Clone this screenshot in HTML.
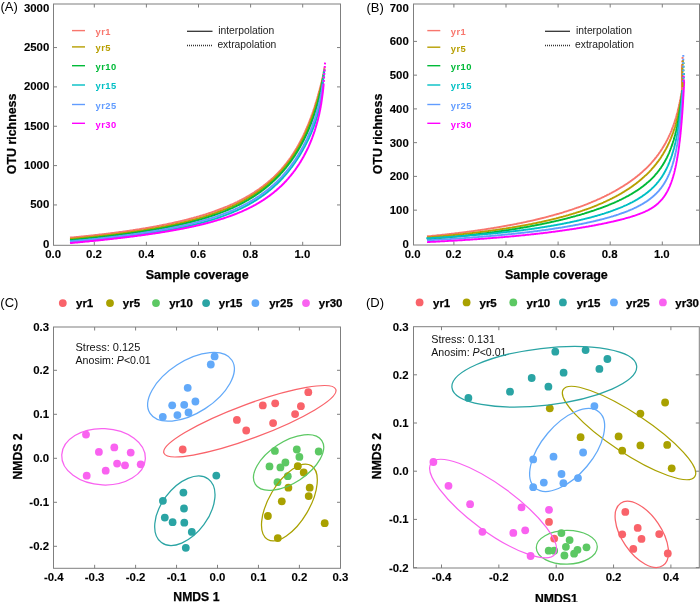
<!DOCTYPE html>
<html><head><meta charset="utf-8"><style>
html,body{margin:0;padding:0;background:#fff;}
svg{display:block;font-family:"Liberation Sans", sans-serif;will-change:transform;}
</style></head><body>
<svg width="700" height="602" viewBox="0 0 700 602">
<rect width="700" height="602" fill="#fff"/>
<text x="0.40" y="11.40" font-size="13" fill="#000">(A)</text>
<rect x="53.50" y="4.00" width="287.00" height="241.30" fill="none" stroke="#7f7f7f" stroke-width="1"/>
<line x1="94.30" y1="245.30" x2="94.30" y2="241.80" stroke="#7f7f7f" stroke-width="1"/>
<line x1="94.30" y1="4.00" x2="94.30" y2="7.50" stroke="#7f7f7f" stroke-width="1"/>
<line x1="146.40" y1="245.30" x2="146.40" y2="241.80" stroke="#7f7f7f" stroke-width="1"/>
<line x1="146.40" y1="4.00" x2="146.40" y2="7.50" stroke="#7f7f7f" stroke-width="1"/>
<line x1="198.50" y1="245.30" x2="198.50" y2="241.80" stroke="#7f7f7f" stroke-width="1"/>
<line x1="198.50" y1="4.00" x2="198.50" y2="7.50" stroke="#7f7f7f" stroke-width="1"/>
<line x1="250.60" y1="245.30" x2="250.60" y2="241.80" stroke="#7f7f7f" stroke-width="1"/>
<line x1="250.60" y1="4.00" x2="250.60" y2="7.50" stroke="#7f7f7f" stroke-width="1"/>
<line x1="302.70" y1="245.30" x2="302.70" y2="241.80" stroke="#7f7f7f" stroke-width="1"/>
<line x1="302.70" y1="4.00" x2="302.70" y2="7.50" stroke="#7f7f7f" stroke-width="1"/>
<line x1="53.50" y1="204.95" x2="57.00" y2="204.95" stroke="#7f7f7f" stroke-width="1"/>
<line x1="340.50" y1="204.95" x2="337.00" y2="204.95" stroke="#7f7f7f" stroke-width="1"/>
<line x1="53.50" y1="165.60" x2="57.00" y2="165.60" stroke="#7f7f7f" stroke-width="1"/>
<line x1="340.50" y1="165.60" x2="337.00" y2="165.60" stroke="#7f7f7f" stroke-width="1"/>
<line x1="53.50" y1="126.25" x2="57.00" y2="126.25" stroke="#7f7f7f" stroke-width="1"/>
<line x1="340.50" y1="126.25" x2="337.00" y2="126.25" stroke="#7f7f7f" stroke-width="1"/>
<line x1="53.50" y1="86.90" x2="57.00" y2="86.90" stroke="#7f7f7f" stroke-width="1"/>
<line x1="340.50" y1="86.90" x2="337.00" y2="86.90" stroke="#7f7f7f" stroke-width="1"/>
<line x1="53.50" y1="47.55" x2="57.00" y2="47.55" stroke="#7f7f7f" stroke-width="1"/>
<line x1="340.50" y1="47.55" x2="337.00" y2="47.55" stroke="#7f7f7f" stroke-width="1"/>
<text x="49.30" y="247.60" font-size="11.4" font-weight="bold" stroke="#000" stroke-width="0.1" text-anchor="end" fill="#000">0</text>
<text x="49.30" y="208.25" font-size="11.4" font-weight="bold" stroke="#000" stroke-width="0.1" text-anchor="end" fill="#000">500</text>
<text x="49.30" y="168.90" font-size="11.4" font-weight="bold" stroke="#000" stroke-width="0.1" text-anchor="end" fill="#000">1000</text>
<text x="49.30" y="129.55" font-size="11.4" font-weight="bold" stroke="#000" stroke-width="0.1" text-anchor="end" fill="#000">1500</text>
<text x="49.30" y="90.20" font-size="11.4" font-weight="bold" stroke="#000" stroke-width="0.1" text-anchor="end" fill="#000">2000</text>
<text x="49.30" y="50.85" font-size="11.4" font-weight="bold" stroke="#000" stroke-width="0.1" text-anchor="end" fill="#000">2500</text>
<text x="49.30" y="11.50" font-size="11.4" font-weight="bold" stroke="#000" stroke-width="0.1" text-anchor="end" fill="#000">3000</text>
<text x="53.20" y="258.40" font-size="11.4" font-weight="bold" stroke="#000" stroke-width="0.1" text-anchor="middle" fill="#000">0.0</text>
<text x="94.00" y="258.40" font-size="11.4" font-weight="bold" stroke="#000" stroke-width="0.1" text-anchor="middle" fill="#000">0.2</text>
<text x="146.10" y="258.40" font-size="11.4" font-weight="bold" stroke="#000" stroke-width="0.1" text-anchor="middle" fill="#000">0.4</text>
<text x="198.20" y="258.40" font-size="11.4" font-weight="bold" stroke="#000" stroke-width="0.1" text-anchor="middle" fill="#000">0.6</text>
<text x="250.30" y="258.40" font-size="11.4" font-weight="bold" stroke="#000" stroke-width="0.1" text-anchor="middle" fill="#000">0.8</text>
<text x="302.40" y="258.40" font-size="11.4" font-weight="bold" stroke="#000" stroke-width="0.1" text-anchor="middle" fill="#000">1.0</text>
<text x="197.20" y="278.80" font-size="12.5" font-weight="bold" stroke="#000" stroke-width="0.25" text-anchor="middle" fill="#000">Sample coverage</text>
<text transform="translate(15.6,133.9) rotate(-90)" font-size="12.4" font-weight="bold" stroke="#000" stroke-width="0.25" text-anchor="middle">OTU richness</text>
<line x1="72.00" y1="30.60" x2="85.00" y2="30.60" stroke="#F8766D" stroke-width="1.4"/>
<text x="95.60" y="35.00" font-size="9.4" font-weight="bold" fill="#F8766D" letter-spacing="0.45">yr1</text>
<line x1="72.00" y1="46.90" x2="85.00" y2="46.90" stroke="#B79F00" stroke-width="1.4"/>
<text x="95.60" y="51.30" font-size="9.4" font-weight="bold" fill="#B79F00" letter-spacing="0.45">yr5</text>
<line x1="72.00" y1="65.70" x2="85.00" y2="65.70" stroke="#00BA38" stroke-width="1.4"/>
<text x="95.60" y="70.10" font-size="9.4" font-weight="bold" fill="#00BA38" letter-spacing="0.45">yr10</text>
<line x1="72.00" y1="85.00" x2="85.00" y2="85.00" stroke="#00BFC4" stroke-width="1.4"/>
<text x="95.60" y="89.40" font-size="9.4" font-weight="bold" fill="#00BFC4" letter-spacing="0.45">yr15</text>
<line x1="72.00" y1="104.50" x2="85.00" y2="104.50" stroke="#619CFF" stroke-width="1.4"/>
<text x="95.60" y="108.90" font-size="9.4" font-weight="bold" fill="#619CFF" letter-spacing="0.45">yr25</text>
<line x1="72.00" y1="123.30" x2="85.00" y2="123.30" stroke="#FF00FF" stroke-width="1.4"/>
<text x="95.60" y="127.70" font-size="9.4" font-weight="bold" fill="#FF00FF" letter-spacing="0.45">yr30</text>
<line x1="187.00" y1="31.30" x2="212.50" y2="31.30" stroke="#333" stroke-width="1.3"/>
<line x1="187.00" y1="45.50" x2="213.00" y2="45.50" stroke="#333" stroke-width="1.3" stroke-dasharray="1,1"/>
<text x="218.20" y="33.80" font-size="10.3" fill="#222">interpolation</text>
<text x="217.40" y="48.00" font-size="10.3" fill="#222">extrapolation</text>
<path d="M70.0,237.7 70.7,237.6 71.4,237.6 72.1,237.5 72.8,237.4 73.5,237.4 74.2,237.3 74.9,237.2 75.6,237.2 76.3,237.1 77.0,237.0 77.7,236.9 78.4,236.9 79.1,236.8 79.8,236.7 80.5,236.7 81.2,236.6 81.9,236.5 82.6,236.5 83.3,236.4 84.0,236.3 84.7,236.2 85.4,236.2 86.1,236.1 86.8,236.0 87.5,236.0 88.2,235.9 88.9,235.8 89.6,235.7 90.3,235.7 91.0,235.6 91.7,235.5 92.4,235.4 93.1,235.4 93.8,235.3 94.5,235.2 95.2,235.1 95.9,235.0 96.6,235.0 97.3,234.9 98.0,234.8 98.7,234.7 99.4,234.6 100.1,234.6 100.8,234.5 101.5,234.4 102.2,234.3 102.9,234.2 103.6,234.2 104.3,234.1 105.0,234.0 105.7,233.9 106.4,233.8 107.1,233.7 107.8,233.7 108.5,233.6 109.2,233.5 109.9,233.4 110.6,233.3 111.3,233.2 111.9,233.1 112.6,233.0 113.3,233.0 114.0,232.9 114.7,232.8 115.4,232.7 116.1,232.6 116.8,232.5 117.5,232.4 118.2,232.3 118.9,232.2 119.6,232.1 120.3,232.0 121.0,231.9 121.7,231.9 122.4,231.8 123.1,231.7 123.8,231.6 124.5,231.5 125.2,231.4 125.8,231.3 126.5,231.2 127.2,231.1 127.9,231.0 128.6,230.9 129.3,230.8 130.0,230.7 130.7,230.6 131.4,230.5 132.1,230.4 132.8,230.3 133.5,230.1 134.2,230.0 134.9,229.9 135.6,229.8 136.3,229.7 137.0,229.6 137.7,229.5 138.4,229.4 139.1,229.3 139.7,229.2 140.4,229.1 141.1,228.9 141.8,228.8 142.5,228.7 143.2,228.6 143.9,228.5 144.6,228.4 145.3,228.3 146.0,228.1 146.7,228.0 147.4,227.9 148.1,227.8 148.8,227.7 149.5,227.5 150.1,227.4 150.8,227.3 151.5,227.2 152.2,227.1 152.9,226.9 153.6,226.8 154.3,226.7 155.0,226.6 155.7,226.4 156.4,226.3 157.0,226.2 157.7,226.0 158.4,225.9 159.1,225.8 159.8,225.6 160.5,225.5 161.2,225.4 161.9,225.2 162.6,225.1 163.3,225.0 163.9,224.8 164.6,224.7 165.3,224.6 166.0,224.4 166.7,224.3 167.4,224.1 168.1,224.0 168.8,223.8 169.5,223.7 170.1,223.5 170.8,223.4 171.5,223.3 172.2,223.1 172.9,223.0 173.6,222.8 174.3,222.6 174.9,222.5 175.6,222.3 176.3,222.2 177.0,222.0 177.7,221.9 178.4,221.7 179.1,221.6 179.7,221.4 180.4,221.2 181.1,221.1 181.8,220.9 182.5,220.7 183.2,220.6 183.8,220.4 184.5,220.2 185.2,220.1 185.9,219.9 186.6,219.7 187.2,219.5 187.9,219.4 188.6,219.2 189.3,219.0 190.0,218.8 190.6,218.7 191.3,218.5 192.0,218.3 192.7,218.1 193.4,217.9 194.0,217.7 194.7,217.5 195.4,217.4 196.1,217.2 196.7,217.0 197.4,216.8 198.1,216.6 198.8,216.4 199.4,216.2 200.1,216.0 200.8,215.8 201.5,215.6 202.1,215.4 202.8,215.2 203.5,215.0 204.1,214.8 204.8,214.6 205.5,214.4 206.2,214.1 206.8,213.9 207.5,213.7 208.2,213.5 208.8,213.3 209.5,213.0 210.2,212.8 210.8,212.6 211.5,212.4 212.2,212.1 212.8,211.9 213.5,211.7 214.2,211.5 214.8,211.2 215.5,211.0 216.1,210.7 216.8,210.5 217.5,210.3 218.1,210.0 218.8,209.8 219.4,209.5 220.1,209.3 220.7,209.0 221.4,208.8 222.1,208.5 222.7,208.3 223.4,208.0 224.0,207.7 224.7,207.5 225.3,207.2 226.0,206.9 226.6,206.7 227.3,206.4 227.9,206.1 228.6,205.9 229.2,205.6 229.8,205.3 230.5,205.0 231.1,204.7 231.8,204.4 232.4,204.2 233.1,203.9 233.7,203.6 234.3,203.3 235.0,203.0 235.6,202.7 236.2,202.4 236.9,202.1 237.5,201.8 238.1,201.4 238.8,201.1 239.4,200.8 240.0,200.5 240.6,200.2 241.3,199.9 241.9,199.5 242.5,199.2 243.1,198.9 243.7,198.5 244.4,198.2 245.0,197.9 245.6,197.5 246.2,197.2 246.8,196.8 247.4,196.5 248.0,196.1 248.7,195.8 249.3,195.4 249.9,195.1 250.5,194.7 251.1,194.3 251.7,194.0 252.3,193.6 252.9,193.2 253.5,192.9 254.1,192.5 254.6,192.1 255.2,191.7 255.8,191.3 256.4,190.9 257.0,190.5 257.6,190.2 258.1,189.8 258.7,189.4 259.3,189.0 259.9,188.5 260.4,188.1 261.0,187.7 261.6,187.3 262.1,186.9 262.7,186.5 263.3,186.0 263.8,185.6 264.4,185.2 264.9,184.7 265.5,184.3 266.0,183.9 266.6,183.4 267.1,183.0 267.7,182.5 268.2,182.1 268.7,181.6 269.3,181.2 269.8,180.7 270.3,180.3 270.9,179.8 271.4,179.3 271.9,178.9 272.4,178.4 272.9,177.9 273.5,177.4 274.0,176.9 274.5,176.5 275.0,176.0 275.5,175.5 276.0,175.0 276.5,174.5 277.0,174.0 277.5,173.5 278.0,173.0 278.4,172.5 278.9,172.0 279.4,171.4 279.9,170.9 280.4,170.4 280.8,169.9 281.3,169.4 281.8,168.8 282.2,168.3 282.7,167.8 283.1,167.2 283.6,166.7 284.1,166.1 284.5,165.6 284.9,165.1 285.4,164.5 285.8,164.0 286.3,163.4 286.7,162.9 287.1,162.3 287.6,161.7 288.0,161.2 288.4,160.6 288.8,160.0 289.2,159.5 289.6,158.9 290.1,158.3 290.5,157.8 290.9,157.2 291.3,156.6 291.7,156.0 292.1,155.4 292.4,154.9 292.8,154.3 293.2,153.7 293.6,153.1 294.0,152.5 294.4,151.9 294.7,151.3 295.1,150.7 295.5,150.1 295.8,149.5 296.2,148.9 296.6,148.3 296.9,147.7 297.3,147.1 297.6,146.5 298.0,145.8 298.3,145.2 298.7,144.6 299.0,144.0 299.3,143.4 299.7,142.8 300.0,142.1 300.3,141.5 300.7,140.9 301.0,140.3 301.3,139.6 301.6,139.0 301.9,138.4 302.3,137.7 302.6,137.1 302.9,136.5 303.2,135.9 303.5,135.2 303.8,134.6 304.1,133.9 304.4,133.3 304.7,132.7 305.0,132.0 305.3,131.4 305.6,130.7 305.8,130.1 306.1,129.4 306.4,128.8 306.7,128.1 307.0,127.5 307.2,126.8 307.5,126.2 307.8,125.5 308.1,124.9 308.3,124.2 308.6,123.6 308.8,122.9 309.1,122.3 309.4,121.6 309.6,120.9 309.9,120.3 310.1,119.6 310.4,119.0 310.6,118.3 310.9,117.6 311.1,117.0 311.4,116.3 311.6,115.6 311.8,115.0 312.1,114.3 312.3,113.7 312.5,113.0 312.8,112.3 313.0,111.7 313.2,111.0 313.5,110.3 313.7,109.6 313.9,109.0 314.1,108.3 314.4,107.6 314.6,107.0 314.8,106.3 315.0,105.6 315.2,104.9 315.4,104.3 315.6,103.6 315.8,102.9 316.1,102.2 316.3,101.6 316.5,100.9 316.7,100.2 316.9,99.5 317.1,98.8 317.3,98.2 317.5,97.5 317.7,96.8 317.9,96.1 318.1,95.4 318.2,94.8 318.4,94.1 318.6,93.4 318.8,92.7 319.0,92.0 319.2,91.4 319.4,90.7 319.6,90.0 319.7,89.3 319.9,88.6 320.1,87.9 320.3,87.2 320.5,86.6 320.6,85.9 320.8,85.2 321.0,84.5 321.2,83.8 321.3,83.1 321.5,82.4 321.7,81.7 321.8,81.0 322.0,80.4 322.2,79.7 322.3,79.0 322.5,78.3 322.7,77.6 322.8,76.9 323.0,76.2 323.0,76.0" fill="none" stroke="#F8766D" stroke-width="2" stroke-linejoin="round"/>
<path d="M70.0,239.0 70.7,238.9 71.4,238.9 72.1,238.8 72.8,238.7 73.5,238.7 74.2,238.6 74.9,238.5 75.6,238.5 76.3,238.4 77.0,238.4 77.7,238.3 78.4,238.2 79.1,238.2 79.8,238.1 80.5,238.0 81.2,238.0 81.9,237.9 82.6,237.8 83.3,237.7 84.0,237.7 84.7,237.6 85.4,237.5 86.1,237.5 86.8,237.4 87.5,237.3 88.2,237.3 88.9,237.2 89.6,237.1 90.3,237.0 91.0,237.0 91.7,236.9 92.4,236.8 93.1,236.8 93.8,236.7 94.5,236.6 95.2,236.5 95.9,236.5 96.6,236.4 97.3,236.3 98.0,236.2 98.7,236.2 99.4,236.1 100.1,236.0 100.8,235.9 101.5,235.8 102.2,235.8 102.9,235.7 103.6,235.6 104.3,235.5 105.0,235.4 105.7,235.4 106.4,235.3 107.1,235.2 107.8,235.1 108.5,235.0 109.2,235.0 109.9,234.9 110.6,234.8 111.3,234.7 112.0,234.6 112.7,234.5 113.4,234.4 114.1,234.4 114.8,234.3 115.5,234.2 116.2,234.1 116.9,234.0 117.5,233.9 118.2,233.8 118.9,233.7 119.6,233.7 120.3,233.6 121.0,233.5 121.7,233.4 122.4,233.3 123.1,233.2 123.8,233.1 124.5,233.0 125.2,232.9 125.9,232.8 126.6,232.7 127.3,232.6 128.0,232.5 128.7,232.4 129.4,232.3 130.1,232.2 130.8,232.1 131.4,232.0 132.1,231.9 132.8,231.8 133.5,231.7 134.2,231.6 134.9,231.5 135.6,231.4 136.3,231.3 137.0,231.2 137.7,231.1 138.4,231.0 139.1,230.9 139.8,230.8 140.5,230.7 141.2,230.6 141.9,230.5 142.6,230.4 143.3,230.3 144.0,230.1 144.7,230.0 145.3,229.9 146.0,229.8 146.7,229.7 147.4,229.6 148.1,229.5 148.8,229.3 149.5,229.2 150.2,229.1 150.9,229.0 151.6,228.9 152.3,228.7 153.0,228.6 153.7,228.5 154.4,228.4 155.0,228.3 155.7,228.1 156.4,228.0 157.1,227.9 157.8,227.8 158.5,227.6 159.2,227.5 159.9,227.4 160.6,227.2 161.3,227.1 161.9,227.0 162.6,226.8 163.3,226.7 164.0,226.6 164.7,226.4 165.4,226.3 166.1,226.2 166.8,226.0 167.5,225.9 168.2,225.8 168.8,225.6 169.5,225.5 170.2,225.3 170.9,225.2 171.6,225.0 172.3,224.9 173.0,224.7 173.7,224.6 174.3,224.4 175.0,224.3 175.7,224.1 176.4,224.0 177.1,223.8 177.8,223.7 178.4,223.5 179.1,223.4 179.8,223.2 180.5,223.1 181.2,222.9 181.9,222.7 182.6,222.6 183.2,222.4 183.9,222.2 184.6,222.1 185.3,221.9 186.0,221.7 186.7,221.6 187.3,221.4 188.0,221.2 188.7,221.1 189.4,220.9 190.1,220.7 190.7,220.5 191.4,220.3 192.1,220.2 192.8,220.0 193.5,219.8 194.1,219.6 194.8,219.4 195.5,219.2 196.2,219.1 196.8,218.9 197.5,218.7 198.2,218.5 198.9,218.3 199.5,218.1 200.2,217.9 200.9,217.7 201.6,217.5 202.2,217.3 202.9,217.1 203.6,216.9 204.2,216.7 204.9,216.5 205.6,216.3 206.3,216.0 206.9,215.8 207.6,215.6 208.3,215.4 208.9,215.2 209.6,215.0 210.3,214.7 210.9,214.5 211.6,214.3 212.3,214.1 212.9,213.8 213.6,213.6 214.3,213.4 214.9,213.1 215.6,212.9 216.2,212.7 216.9,212.4 217.6,212.2 218.2,211.9 218.9,211.7 219.5,211.4 220.2,211.2 220.8,210.9 221.5,210.7 222.2,210.4 222.8,210.2 223.5,209.9 224.1,209.7 224.8,209.4 225.4,209.1 226.1,208.9 226.7,208.6 227.4,208.3 228.0,208.0 228.7,207.8 229.3,207.5 229.9,207.2 230.6,206.9 231.2,206.6 231.9,206.3 232.5,206.0 233.2,205.8 233.8,205.5 234.4,205.2 235.1,204.9 235.7,204.6 236.3,204.3 237.0,203.9 237.6,203.6 238.2,203.3 238.9,203.0 239.5,202.7 240.1,202.4 240.7,202.1 241.4,201.7 242.0,201.4 242.6,201.1 243.2,200.7 243.8,200.4 244.4,200.1 245.1,199.7 245.7,199.4 246.3,199.0 246.9,198.7 247.5,198.3 248.1,198.0 248.7,197.6 249.3,197.3 249.9,196.9 250.5,196.5 251.1,196.2 251.7,195.8 252.3,195.4 252.9,195.1 253.5,194.7 254.1,194.3 254.7,193.9 255.3,193.5 255.9,193.1 256.5,192.7 257.0,192.3 257.6,191.9 258.2,191.5 258.8,191.1 259.3,190.7 259.9,190.3 260.5,189.9 261.1,189.5 261.6,189.1 262.2,188.7 262.7,188.2 263.3,187.8 263.9,187.4 264.4,186.9 265.0,186.5 265.5,186.1 266.1,185.6 266.6,185.2 267.2,184.7 267.7,184.3 268.2,183.8 268.8,183.4 269.3,182.9 269.8,182.5 270.4,182.0 270.9,181.5 271.4,181.1 271.9,180.6 272.5,180.1 273.0,179.6 273.5,179.2 274.0,178.7 274.5,178.2 275.0,177.7 275.5,177.2 276.0,176.7 276.5,176.2 277.0,175.7 277.5,175.2 278.0,174.7 278.5,174.2 279.0,173.7 279.4,173.2 279.9,172.7 280.4,172.1 280.9,171.6 281.3,171.1 281.8,170.6 282.3,170.0 282.7,169.5 283.2,169.0 283.7,168.5 284.1,167.9 284.6,167.4 285.0,166.8 285.5,166.3 285.9,165.7 286.3,165.2 286.8,164.6 287.2,164.1 287.6,163.5 288.1,163.0 288.5,162.4 288.9,161.8 289.3,161.3 289.7,160.7 290.2,160.1 290.6,159.6 291.0,159.0 291.4,158.4 291.8,157.8 292.2,157.2 292.6,156.7 293.0,156.1 293.4,155.5 293.7,154.9 294.1,154.3 294.5,153.7 294.9,153.1 295.3,152.5 295.6,151.9 296.0,151.3 296.4,150.7 296.7,150.1 297.1,149.5 297.5,148.9 297.8,148.3 298.2,147.7 298.5,147.1 298.9,146.5 299.2,145.9 299.6,145.2 299.9,144.6 300.2,144.0 300.6,143.4 300.9,142.8 301.2,142.1 301.6,141.5 301.9,140.9 302.2,140.3 302.5,139.6 302.8,139.0 303.2,138.4 303.5,137.7 303.8,137.1 304.1,136.5 304.4,135.8 304.7,135.2 305.0,134.6 305.3,133.9 305.6,133.3 305.9,132.6 306.2,132.0 306.4,131.3 306.7,130.7 307.0,130.0 307.3,129.4 307.6,128.8 307.8,128.1 308.1,127.4 308.4,126.8 308.7,126.1 308.9,125.5 309.2,124.8 309.4,124.2 309.7,123.5 310.0,122.9 310.2,122.2 310.5,121.5 310.7,120.9 311.0,120.2 311.2,119.5 311.5,118.9 311.7,118.2 311.9,117.6 312.2,116.9 312.4,116.2 312.6,115.5 312.9,114.9 313.1,114.2 313.3,113.5 313.6,112.9 313.8,112.2 314.0,111.5 314.2,110.9 314.5,110.2 314.7,109.5 314.9,108.8 315.1,108.2 315.3,107.5 315.5,106.8 315.7,106.1 315.9,105.5 316.1,104.8 316.3,104.1 316.5,103.4 316.7,102.7 316.9,102.1 317.1,101.4 317.3,100.7 317.5,100.0 317.7,99.3 317.9,98.7 318.1,98.0 318.3,97.3 318.5,96.6 318.7,95.9 318.8,95.2 319.0,94.6 319.2,93.9 319.4,93.2 319.6,92.5 319.7,91.8 319.9,91.1 320.1,90.4 320.2,89.7 320.4,89.1 320.6,88.4 320.8,87.7 320.9,87.0 321.1,86.3 321.3,85.6 321.4,84.9 321.6,84.2 321.7,83.5 321.9,82.8 322.0,82.1 322.2,81.4 322.4,80.8 322.5,80.1 322.7,79.3 322.8,78.7 323.0,78.0" fill="none" stroke="#B79F00" stroke-width="2" stroke-linejoin="round"/>
<path d="M70.0,240.2 70.7,240.1 71.4,240.1 72.1,240.0 72.8,239.9 73.5,239.9 74.2,239.8 74.9,239.7 75.6,239.7 76.3,239.6 77.0,239.5 77.7,239.5 78.4,239.4 79.1,239.3 79.8,239.2 80.5,239.2 81.2,239.1 81.9,239.0 82.6,239.0 83.3,238.9 84.0,238.8 84.7,238.8 85.4,238.7 86.1,238.6 86.8,238.5 87.5,238.5 88.2,238.4 88.9,238.3 89.6,238.3 90.3,238.2 91.0,238.1 91.7,238.0 92.4,238.0 93.1,237.9 93.8,237.8 94.5,237.7 95.2,237.7 95.9,237.6 96.6,237.5 97.3,237.4 98.0,237.4 98.7,237.3 99.4,237.2 100.1,237.1 100.8,237.0 101.5,237.0 102.2,236.9 102.9,236.8 103.6,236.7 104.3,236.6 105.0,236.6 105.7,236.5 106.4,236.4 107.1,236.3 107.8,236.2 108.5,236.2 109.2,236.1 109.9,236.0 110.6,235.9 111.3,235.8 112.0,235.7 112.7,235.7 113.4,235.6 114.1,235.5 114.8,235.4 115.5,235.3 116.2,235.2 116.9,235.1 117.5,235.1 118.2,235.0 118.9,234.9 119.6,234.8 120.3,234.7 121.0,234.6 121.7,234.5 122.4,234.4 123.1,234.3 123.8,234.2 124.5,234.2 125.2,234.1 125.9,234.0 126.6,233.9 127.3,233.8 128.0,233.7 128.7,233.6 129.4,233.5 130.1,233.4 130.8,233.3 131.4,233.2 132.1,233.1 132.8,233.0 133.5,232.9 134.2,232.8 134.9,232.7 135.6,232.6 136.3,232.5 137.0,232.4 137.7,232.3 138.4,232.2 139.1,232.1 139.8,232.0 140.5,231.9 141.2,231.8 141.9,231.7 142.6,231.6 143.3,231.5 144.0,231.3 144.7,231.2 145.3,231.1 146.0,231.0 146.7,230.9 147.4,230.8 148.1,230.7 148.8,230.6 149.5,230.5 150.2,230.3 150.9,230.2 151.6,230.1 152.3,230.0 153.0,229.9 153.7,229.8 154.4,229.6 155.1,229.5 155.8,229.4 156.4,229.3 157.1,229.2 157.8,229.0 158.5,228.9 159.2,228.8 159.9,228.7 160.6,228.5 161.3,228.4 162.0,228.3 162.7,228.2 163.3,228.0 164.0,227.9 164.7,227.8 165.4,227.6 166.1,227.5 166.8,227.4 167.5,227.2 168.2,227.1 168.9,227.0 169.6,226.8 170.2,226.7 170.9,226.5 171.6,226.4 172.3,226.3 173.0,226.1 173.7,226.0 174.4,225.8 175.1,225.7 175.8,225.5 176.4,225.4 177.1,225.2 177.8,225.1 178.5,224.9 179.2,224.8 179.9,224.6 180.6,224.5 181.2,224.3 181.9,224.2 182.6,224.0 183.3,223.9 184.0,223.7 184.7,223.5 185.3,223.4 186.0,223.2 186.7,223.0 187.4,222.9 188.1,222.7 188.8,222.5 189.4,222.4 190.1,222.2 190.8,222.0 191.5,221.9 192.2,221.7 192.8,221.5 193.5,221.3 194.2,221.1 194.9,221.0 195.6,220.8 196.2,220.6 196.9,220.4 197.6,220.2 198.3,220.0 198.9,219.9 199.6,219.7 200.3,219.5 201.0,219.3 201.6,219.1 202.3,218.9 203.0,218.7 203.7,218.5 204.3,218.3 205.0,218.1 205.7,217.9 206.4,217.7 207.0,217.5 207.7,217.2 208.4,217.0 209.0,216.8 209.7,216.6 210.4,216.4 211.0,216.2 211.7,215.9 212.4,215.7 213.0,215.5 213.7,215.3 214.4,215.0 215.0,214.8 215.7,214.6 216.4,214.3 217.0,214.1 217.7,213.9 218.3,213.6 219.0,213.4 219.7,213.1 220.3,212.9 221.0,212.6 221.6,212.4 222.3,212.1 222.9,211.9 223.6,211.6 224.2,211.4 224.9,211.1 225.5,210.8 226.2,210.6 226.8,210.3 227.5,210.0 228.1,209.8 228.8,209.5 229.4,209.2 230.1,208.9 230.7,208.7 231.4,208.4 232.0,208.1 232.7,207.8 233.3,207.5 233.9,207.2 234.6,206.9 235.2,206.6 235.8,206.3 236.5,206.0 237.1,205.7 237.7,205.4 238.4,205.1 239.0,204.8 239.6,204.5 240.3,204.1 240.9,203.8 241.5,203.5 242.1,203.2 242.7,202.8 243.4,202.5 244.0,202.2 244.6,201.8 245.2,201.5 245.8,201.1 246.4,200.8 247.0,200.5 247.7,200.1 248.3,199.8 248.9,199.4 249.5,199.0 250.1,198.7 250.7,198.3 251.3,197.9 251.9,197.6 252.5,197.2 253.1,196.8 253.7,196.4 254.3,196.1 254.8,195.7 255.4,195.3 256.0,194.9 256.6,194.5 257.2,194.1 257.8,193.7 258.3,193.3 258.9,192.9 259.5,192.5 260.1,192.1 260.6,191.7 261.2,191.3 261.8,190.9 262.3,190.4 262.9,190.0 263.4,189.6 264.0,189.2 264.5,188.7 265.1,188.3 265.6,187.8 266.2,187.4 266.7,187.0 267.3,186.5 267.8,186.1 268.4,185.6 268.9,185.2 269.4,184.7 270.0,184.2 270.5,183.8 271.0,183.3 271.5,182.8 272.1,182.4 272.6,181.9 273.1,181.4 273.6,180.9 274.1,180.5 274.6,180.0 275.1,179.5 275.6,179.0 276.1,178.5 276.6,178.0 277.1,177.5 277.6,177.0 278.1,176.5 278.6,176.0 279.1,175.5 279.6,175.0 280.1,174.5 280.5,173.9 281.0,173.4 281.5,172.9 282.0,172.4 282.4,171.9 282.9,171.3 283.4,170.8 283.8,170.3 284.3,169.7 284.7,169.2 285.2,168.6 285.6,168.1 286.1,167.6 286.5,167.0 286.9,166.5 287.4,165.9 287.8,165.3 288.2,164.8 288.7,164.2 289.1,163.7 289.5,163.1 289.9,162.5 290.4,162.0 290.8,161.4 291.2,160.8 291.6,160.3 292.0,159.7 292.4,159.1 292.8,158.5 293.2,158.0 293.6,157.4 294.0,156.8 294.4,156.2 294.8,155.6 295.2,155.0 295.5,154.4 295.9,153.8 296.3,153.2 296.7,152.6 297.0,152.0 297.4,151.4 297.8,150.8 298.1,150.2 298.5,149.6 298.8,149.0 299.2,148.4 299.5,147.8 299.9,147.2 300.2,146.6 300.6,145.9 300.9,145.3 301.3,144.7 301.6,144.1 301.9,143.5 302.3,142.8 302.6,142.2 302.9,141.6 303.2,141.0 303.6,140.3 303.9,139.7 304.2,139.1 304.5,138.4 304.8,137.8 305.1,137.2 305.4,136.5 305.7,135.9 306.0,135.3 306.3,134.6 306.6,134.0 306.9,133.3 307.2,132.7 307.5,132.0 307.8,131.4 308.0,130.8 308.3,130.1 308.6,129.5 308.9,128.8 309.1,128.2 309.4,127.5 309.7,126.8 309.9,126.2 310.2,125.5 310.5,124.9 310.7,124.2 311.0,123.6 311.2,122.9 311.5,122.2 311.7,121.6 312.0,120.9 312.2,120.2 312.4,119.6 312.7,118.9 312.9,118.3 313.2,117.6 313.4,116.9 313.6,116.2 313.8,115.6 314.1,114.9 314.3,114.2 314.5,113.6 314.7,112.9 314.9,112.2 315.2,111.5 315.4,110.9 315.6,110.2 315.8,109.5 316.0,108.8 316.2,108.1 316.4,107.5 316.6,106.8 316.8,106.1 317.0,105.4 317.2,104.7 317.4,104.1 317.6,103.4 317.8,102.7 317.9,102.0 318.1,101.3 318.3,100.6 318.5,99.9 318.7,99.3 318.8,98.6 319.0,97.9 319.2,97.2 319.3,96.5 319.5,95.8 319.7,95.1 319.8,94.4 320.0,93.7 320.2,93.0 320.3,92.3 320.5,91.7 320.6,91.0 320.8,90.3 320.9,89.6 321.1,88.9 321.2,88.2 321.4,87.5 321.5,86.8 321.7,86.1 321.8,85.4 321.9,84.7 322.1,84.0 322.2,83.3 322.4,82.6 322.5,81.9 322.6,81.2 322.7,80.5 322.8,80.0" fill="none" stroke="#00BA38" stroke-width="2" stroke-linejoin="round"/>
<path d="M70.0,241.1 70.7,241.0 71.4,241.0 72.1,240.9 72.8,240.9 73.5,240.8 74.2,240.8 74.9,240.7 75.6,240.7 76.3,240.6 77.0,240.6 77.7,240.5 78.4,240.5 79.1,240.4 79.8,240.4 80.5,240.3 81.2,240.2 81.9,240.2 82.6,240.1 83.3,240.1 84.0,240.0 84.7,240.0 85.4,239.9 86.1,239.9 86.8,239.8 87.5,239.8 88.2,239.7 88.9,239.6 89.6,239.6 90.3,239.5 91.0,239.5 91.7,239.4 92.4,239.4 93.1,239.3 93.8,239.2 94.5,239.2 95.2,239.1 95.9,239.1 96.6,239.0 97.3,238.9 98.0,238.9 98.7,238.8 99.4,238.8 100.1,238.7 100.8,238.6 101.5,238.6 102.2,238.5 102.9,238.4 103.6,238.4 104.3,238.3 105.0,238.2 105.7,238.2 106.4,238.1 107.1,238.1 107.8,238.0 108.5,237.9 109.2,237.8 109.9,237.8 110.6,237.7 111.3,237.6 112.0,237.6 112.7,237.5 113.4,237.4 114.1,237.4 114.8,237.3 115.5,237.2 116.2,237.1 116.9,237.1 117.6,237.0 118.3,236.9 119.0,236.9 119.7,236.8 120.4,236.7 121.1,236.6 121.8,236.6 122.5,236.5 123.2,236.4 123.9,236.3 124.6,236.2 125.3,236.2 126.0,236.1 126.7,236.0 127.4,235.9 128.1,235.8 128.8,235.8 129.5,235.7 130.2,235.6 130.9,235.5 131.6,235.4 132.3,235.4 133.0,235.3 133.7,235.2 134.4,235.1 135.1,235.0 135.8,234.9 136.5,234.8 137.2,234.7 137.9,234.7 138.5,234.6 139.2,234.5 139.9,234.4 140.6,234.3 141.3,234.2 142.0,234.1 142.7,234.0 143.4,233.9 144.1,233.8 144.8,233.7 145.5,233.6 146.2,233.5 146.9,233.4 147.6,233.4 148.3,233.3 149.0,233.2 149.7,233.1 150.4,233.0 151.1,232.9 151.8,232.7 152.4,232.6 153.1,232.5 153.8,232.4 154.5,232.3 155.2,232.2 155.9,232.1 156.6,232.0 157.3,231.9 158.0,231.8 158.7,231.7 159.4,231.6 160.1,231.5 160.8,231.3 161.5,231.2 162.2,231.1 162.9,231.0 163.6,230.9 164.3,230.8 165.0,230.6 165.6,230.5 166.3,230.4 167.0,230.3 167.7,230.2 168.4,230.0 169.1,229.9 169.8,229.8 170.5,229.7 171.2,229.5 171.9,229.4 172.5,229.3 173.2,229.2 173.9,229.0 174.6,228.9 175.3,228.8 176.0,228.6 176.7,228.5 177.4,228.4 178.1,228.2 178.8,228.1 179.4,227.9 180.1,227.8 180.8,227.7 181.5,227.5 182.2,227.4 182.9,227.2 183.6,227.1 184.3,226.9 184.9,226.8 185.6,226.6 186.3,226.5 187.0,226.3 187.7,226.2 188.4,226.0 189.1,225.9 189.7,225.7 190.4,225.6 191.1,225.4 191.8,225.2 192.5,225.1 193.2,224.9 193.9,224.7 194.5,224.6 195.2,224.4 195.9,224.2 196.6,224.1 197.3,223.9 197.9,223.7 198.6,223.5 199.3,223.4 200.0,223.2 200.7,223.0 201.3,222.8 202.0,222.6 202.7,222.5 203.4,222.3 204.0,222.1 204.7,221.9 205.4,221.7 206.1,221.5 206.7,221.3 207.4,221.1 208.1,220.9 208.8,220.7 209.4,220.5 210.1,220.3 210.8,220.1 211.5,219.9 212.1,219.7 212.8,219.5 213.5,219.3 214.1,219.1 214.8,218.9 215.5,218.6 216.2,218.4 216.8,218.2 217.5,218.0 218.1,217.7 218.8,217.5 219.5,217.3 220.1,217.1 220.8,216.8 221.5,216.6 222.1,216.4 222.8,216.1 223.4,215.9 224.1,215.6 224.8,215.4 225.4,215.1 226.1,214.9 226.7,214.6 227.4,214.4 228.0,214.1 228.7,213.9 229.3,213.6 230.0,213.3 230.6,213.1 231.3,212.8 231.9,212.5 232.6,212.3 233.2,212.0 233.9,211.7 234.5,211.4 235.2,211.1 235.8,210.9 236.5,210.6 237.1,210.3 237.7,210.0 238.4,209.7 239.0,209.4 239.6,209.1 240.3,208.8 240.9,208.5 241.5,208.2 242.2,207.9 242.8,207.6 243.4,207.2 244.1,206.9 244.7,206.6 245.3,206.3 245.9,206.0 246.6,205.6 247.2,205.3 247.8,205.0 248.4,204.6 249.0,204.3 249.6,203.9 250.2,203.6 250.9,203.2 251.5,202.9 252.1,202.5 252.7,202.2 253.3,201.8 253.9,201.4 254.5,201.1 255.1,200.7 255.7,200.3 256.3,200.0 256.9,199.6 257.5,199.2 258.0,198.8 258.6,198.4 259.2,198.0 259.8,197.6 260.4,197.3 261.0,196.9 261.5,196.4 262.1,196.0 262.7,195.6 263.3,195.2 263.8,194.8 264.4,194.4 265.0,194.0 265.5,193.6 266.1,193.1 266.6,192.7 267.2,192.3 267.7,191.8 268.3,191.4 268.8,190.9 269.4,190.5 269.9,190.1 270.5,189.6 271.0,189.2 271.5,188.7 272.1,188.2 272.6,187.8 273.1,187.3 273.7,186.8 274.2,186.4 274.7,185.9 275.2,185.4 275.7,184.9 276.3,184.5 276.8,184.0 277.3,183.5 277.8,183.0 278.3,182.5 278.8,182.0 279.3,181.5 279.8,181.0 280.3,180.5 280.8,180.0 281.2,179.5 281.7,179.0 282.2,178.5 282.7,178.0 283.2,177.4 283.6,176.9 284.1,176.4 284.6,175.9 285.0,175.3 285.5,174.8 286.0,174.3 286.4,173.7 286.9,173.2 287.3,172.7 287.8,172.1 288.2,171.6 288.6,171.0 289.1,170.5 289.5,169.9 290.0,169.4 290.4,168.8 290.8,168.2 291.2,167.7 291.7,167.1 292.1,166.6 292.5,166.0 292.9,165.4 293.3,164.9 293.7,164.3 294.1,163.7 294.5,163.1 294.9,162.6 295.3,162.0 295.7,161.4 296.1,160.8 296.5,160.2 296.9,159.6 297.3,159.0 297.7,158.4 298.1,157.8 298.4,157.3 298.8,156.7 299.2,156.1 299.6,155.5 299.9,154.9 300.3,154.3 300.6,153.7 301.0,153.0 301.4,152.4 301.7,151.8 302.1,151.2 302.4,150.6 302.8,150.0 303.1,149.4 303.4,148.8 303.8,148.1 304.1,147.5 304.5,146.9 304.8,146.3 305.1,145.7 305.4,145.0 305.8,144.4 306.1,143.8 306.4,143.1 306.7,142.5 307.0,141.9 307.3,141.3 307.7,140.6 308.0,140.0 308.3,139.3 308.6,138.7 308.9,138.1 309.2,137.4 309.5,136.8 309.7,136.2 310.0,135.5 310.3,134.9 310.6,134.2 310.9,133.6 311.2,132.9 311.4,132.3 311.7,131.6 312.0,131.0 312.2,130.3 312.5,129.6 312.8,129.0 313.0,128.3 313.3,127.7 313.5,127.0 313.8,126.3 314.0,125.7 314.3,125.0 314.5,124.3 314.7,123.7 315.0,123.0 315.2,122.3 315.4,121.7 315.6,121.0 315.9,120.3 316.1,119.6 316.3,119.0 316.5,118.3 316.7,117.6 316.9,116.9 317.1,116.3 317.3,115.6 317.4,114.9 317.6,114.2 317.8,113.5 318.0,112.8 318.1,112.2 318.3,111.5 318.5,110.8 318.6,110.1 318.8,109.4 319.0,108.7 319.1,108.0 319.2,107.3 319.4,106.6 319.5,105.9 319.7,105.2 319.8,104.5 319.9,103.8 320.1,103.1 320.2,102.4 320.3,101.7 320.4,101.0 320.6,100.2 320.7,99.5 320.8,98.8 320.9,98.1 321.0,97.4 321.1,96.7 321.2,96.0 321.3,95.2 321.4,94.5 321.5,93.8 321.6,93.1 321.7,92.4 321.8,91.7 321.9,91.0 322.0,90.2 322.1,89.5 322.1,88.8 322.2,88.1 322.3,87.3 322.4,86.6 322.5,85.9 322.5,85.2 322.6,84.5 322.7,84.0" fill="none" stroke="#00BFC4" stroke-width="2" stroke-linejoin="round"/>
<path d="M70.0,241.6 70.7,241.5 71.4,241.5 72.1,241.4 72.8,241.3 73.5,241.3 74.2,241.2 74.9,241.1 75.6,241.1 76.3,241.0 77.0,240.9 77.7,240.9 78.4,240.8 79.1,240.7 79.8,240.6 80.5,240.6 81.2,240.5 81.9,240.4 82.6,240.4 83.3,240.3 84.0,240.2 84.7,240.1 85.4,240.1 86.1,240.0 86.8,239.9 87.5,239.9 88.2,239.8 88.9,239.7 89.6,239.6 90.3,239.6 91.0,239.5 91.7,239.4 92.4,239.3 93.1,239.3 93.8,239.2 94.5,239.1 95.2,239.0 95.9,238.9 96.6,238.9 97.3,238.8 98.0,238.7 98.7,238.6 99.4,238.6 100.1,238.5 100.8,238.4 101.5,238.3 102.2,238.2 102.9,238.2 103.6,238.1 104.3,238.0 105.0,237.9 105.7,237.8 106.4,237.8 107.1,237.7 107.8,237.6 108.5,237.5 109.2,237.4 109.9,237.3 110.6,237.3 111.3,237.2 112.0,237.1 112.7,237.0 113.4,236.9 114.1,236.8 114.8,236.7 115.5,236.7 116.2,236.6 116.9,236.5 117.5,236.4 118.2,236.3 118.9,236.2 119.6,236.1 120.3,236.0 121.0,236.0 121.7,235.9 122.4,235.8 123.1,235.7 123.8,235.6 124.5,235.5 125.2,235.4 125.9,235.3 126.6,235.2 127.3,235.1 128.0,235.0 128.7,234.9 129.4,234.9 130.1,234.8 130.8,234.7 131.4,234.6 132.1,234.5 132.8,234.4 133.5,234.3 134.2,234.2 134.9,234.1 135.6,234.0 136.3,233.9 137.0,233.8 137.7,233.7 138.4,233.6 139.1,233.5 139.8,233.4 140.5,233.3 141.2,233.2 141.9,233.1 142.6,233.0 143.3,232.9 144.0,232.7 144.7,232.6 145.3,232.5 146.0,232.4 146.7,232.3 147.4,232.2 148.1,232.1 148.8,232.0 149.5,231.9 150.2,231.8 150.9,231.7 151.6,231.5 152.3,231.4 153.0,231.3 153.7,231.2 154.4,231.1 155.1,231.0 155.8,230.9 156.5,230.7 157.2,230.6 157.9,230.5 158.5,230.4 159.2,230.3 159.9,230.1 160.6,230.0 161.3,229.9 162.0,229.8 162.7,229.6 163.4,229.5 164.1,229.4 164.8,229.3 165.4,229.1 166.1,229.0 166.8,228.9 167.5,228.8 168.2,228.6 168.9,228.5 169.6,228.4 170.3,228.2 171.0,228.1 171.7,228.0 172.3,227.8 173.0,227.7 173.7,227.5 174.4,227.4 175.1,227.3 175.8,227.1 176.5,227.0 177.2,226.8 177.9,226.7 178.6,226.6 179.2,226.4 179.9,226.3 180.6,226.1 181.3,226.0 182.0,225.8 182.7,225.7 183.3,225.5 184.0,225.4 184.7,225.2 185.4,225.1 186.1,224.9 186.8,224.7 187.5,224.6 188.1,224.4 188.8,224.3 189.5,224.1 190.2,223.9 190.9,223.8 191.6,223.6 192.2,223.4 192.9,223.3 193.6,223.1 194.3,222.9 195.0,222.7 195.6,222.6 196.3,222.4 197.0,222.2 197.7,222.0 198.4,221.9 199.0,221.7 199.7,221.5 200.4,221.3 201.1,221.1 201.8,220.9 202.4,220.8 203.1,220.6 203.8,220.4 204.5,220.2 205.1,220.0 205.8,219.8 206.5,219.6 207.2,219.4 207.8,219.2 208.5,219.0 209.2,218.8 209.9,218.6 210.5,218.4 211.2,218.2 211.9,218.0 212.5,217.7 213.2,217.5 213.9,217.3 214.5,217.1 215.2,216.9 215.9,216.6 216.5,216.4 217.2,216.2 217.9,216.0 218.5,215.7 219.2,215.5 219.9,215.3 220.5,215.0 221.2,214.8 221.8,214.6 222.5,214.3 223.2,214.1 223.8,213.8 224.5,213.6 225.1,213.3 225.8,213.1 226.4,212.8 227.1,212.6 227.8,212.3 228.4,212.1 229.1,211.8 229.7,211.5 230.4,211.3 231.0,211.0 231.7,210.7 232.3,210.4 232.9,210.2 233.6,209.9 234.2,209.6 234.9,209.3 235.5,209.0 236.2,208.7 236.8,208.4 237.4,208.2 238.1,207.9 238.7,207.6 239.3,207.3 240.0,206.9 240.6,206.6 241.2,206.3 241.9,206.0 242.5,205.7 243.1,205.4 243.7,205.1 244.4,204.7 245.0,204.4 245.6,204.1 246.2,203.8 246.9,203.4 247.5,203.1 248.1,202.8 248.7,202.4 249.3,202.1 249.9,201.7 250.5,201.4 251.1,201.0 251.7,200.7 252.4,200.3 253.0,199.9 253.6,199.6 254.2,199.2 254.8,198.8 255.3,198.5 255.9,198.1 256.5,197.7 257.1,197.3 257.7,196.9 258.3,196.5 258.9,196.2 259.5,195.8 260.0,195.4 260.6,195.0 261.2,194.6 261.8,194.2 262.3,193.8 262.9,193.3 263.5,192.9 264.0,192.5 264.6,192.1 265.2,191.7 265.7,191.2 266.3,190.8 266.8,190.4 267.4,189.9 267.9,189.5 268.5,189.1 269.0,188.6 269.6,188.2 270.1,187.7 270.7,187.3 271.2,186.8 271.7,186.3 272.3,185.9 272.8,185.4 273.3,185.0 273.8,184.5 274.4,184.0 274.9,183.5 275.4,183.1 275.9,182.6 276.4,182.1 276.9,181.6 277.4,181.1 277.9,180.6 278.4,180.1 278.9,179.6 279.4,179.1 279.9,178.6 280.4,178.1 280.9,177.6 281.4,177.1 281.9,176.6 282.3,176.1 282.8,175.6 283.3,175.0 283.8,174.5 284.2,174.0 284.7,173.4 285.1,172.9 285.6,172.4 286.1,171.8 286.5,171.3 287.0,170.8 287.4,170.2 287.9,169.7 288.3,169.1 288.7,168.6 289.2,168.0 289.6,167.5 290.0,166.9 290.5,166.4 290.9,165.8 291.3,165.2 291.7,164.7 292.1,164.1 292.6,163.5 293.0,162.9 293.4,162.4 293.8,161.8 294.2,161.2 294.6,160.6 295.0,160.1 295.4,159.5 295.8,158.9 296.1,158.3 296.5,157.7 296.9,157.1 297.3,156.5 297.7,155.9 298.0,155.3 298.4,154.7 298.8,154.1 299.1,153.5 299.5,152.9 299.9,152.3 300.2,151.7 300.6,151.1 300.9,150.5 301.3,149.9 301.6,149.2 302.0,148.6 302.3,148.0 302.6,147.4 303.0,146.8 303.3,146.2 303.6,145.5 303.9,144.9 304.3,144.3 304.6,143.6 304.9,143.0 305.2,142.4 305.5,141.7 305.8,141.1 306.1,140.5 306.5,139.8 306.8,139.2 307.1,138.6 307.3,137.9 307.6,137.3 307.9,136.6 308.2,136.0 308.5,135.3 308.8,134.7 309.1,134.0 309.3,133.4 309.6,132.7 309.9,132.1 310.2,131.4 310.4,130.8 310.7,130.1 310.9,129.5 311.2,128.8 311.5,128.2 311.7,127.5 312.0,126.8 312.2,126.2 312.5,125.5 312.7,124.8 312.9,124.2 313.2,123.5 313.4,122.8 313.6,122.2 313.9,121.5 314.1,120.8 314.3,120.2 314.5,119.5 314.8,118.8 315.0,118.1 315.2,117.5 315.4,116.8 315.6,116.1 315.8,115.5 316.0,114.8 316.2,114.1 316.4,113.4 316.6,112.7 316.8,112.0 317.0,111.4 317.2,110.7 317.4,110.0 317.6,109.3 317.8,108.6 318.0,107.9 318.1,107.2 318.3,106.5 318.5,105.8 318.7,105.2 318.8,104.5 319.0,103.8 319.2,103.1 319.3,102.4 319.5,101.7 319.6,101.0 319.8,100.3 319.9,99.6 320.1,98.9 320.2,98.2 320.4,97.5 320.5,96.8 320.7,96.1 320.8,95.4 320.9,94.7 321.1,94.0 321.2,93.3 321.3,92.6 321.5,91.9 321.6,91.2 321.7,90.5 321.8,89.8 322.0,89.1 322.1,88.4 322.2,87.7 322.3,87.0 322.4,86.3 322.5,85.6 322.6,84.8 322.7,84.1 322.9,83.4 323.0,82.7 323.1,82.0" fill="none" stroke="#619CFF" stroke-width="2" stroke-linejoin="round"/>
<path d="M70.0,243.1 70.7,243.0 71.4,242.9 72.1,242.9 72.8,242.8 73.5,242.8 74.2,242.7 74.9,242.6 75.6,242.6 76.3,242.5 77.0,242.4 77.7,242.4 78.4,242.3 79.1,242.2 79.8,242.2 80.5,242.1 81.2,242.0 81.9,242.0 82.6,241.9 83.3,241.8 84.0,241.8 84.7,241.7 85.4,241.6 86.1,241.6 86.8,241.5 87.5,241.4 88.2,241.4 88.9,241.3 89.6,241.2 90.3,241.1 91.0,241.1 91.7,241.0 92.4,240.9 93.1,240.9 93.8,240.8 94.5,240.7 95.2,240.7 95.9,240.6 96.6,240.5 97.3,240.4 98.0,240.4 98.7,240.3 99.4,240.2 100.1,240.2 100.8,240.1 101.5,240.0 102.2,239.9 102.9,239.9 103.6,239.8 104.3,239.7 105.0,239.6 105.7,239.6 106.4,239.5 107.1,239.4 107.8,239.3 108.5,239.3 109.2,239.2 109.9,239.1 110.6,239.0 111.3,238.9 112.0,238.9 112.7,238.8 113.4,238.7 114.1,238.6 114.8,238.6 115.5,238.5 116.2,238.4 116.9,238.3 117.6,238.2 118.3,238.1 119.0,238.1 119.7,238.0 120.4,237.9 121.1,237.8 121.8,237.7 122.5,237.7 123.2,237.6 123.9,237.5 124.6,237.4 125.3,237.3 126.0,237.2 126.7,237.2 127.4,237.1 128.1,237.0 128.8,236.9 129.5,236.8 130.2,236.7 130.8,236.6 131.5,236.5 132.2,236.5 132.9,236.4 133.6,236.3 134.3,236.2 135.0,236.1 135.7,236.0 136.4,235.9 137.1,235.8 137.8,235.7 138.5,235.6 139.2,235.6 139.9,235.5 140.6,235.4 141.3,235.3 142.0,235.2 142.7,235.1 143.4,235.0 144.1,234.9 144.7,234.8 145.4,234.7 146.1,234.6 146.8,234.5 147.5,234.4 148.2,234.3 148.9,234.2 149.6,234.1 150.3,234.0 151.0,233.9 151.7,233.8 152.4,233.7 153.1,233.6 153.8,233.5 154.5,233.4 155.2,233.3 155.9,233.2 156.6,233.1 157.3,233.0 158.0,232.9 158.6,232.8 159.3,232.7 160.0,232.5 160.7,232.4 161.4,232.3 162.1,232.2 162.8,232.1 163.5,232.0 164.2,231.9 164.9,231.8 165.6,231.6 166.3,231.5 167.0,231.4 167.7,231.3 168.4,231.2 169.1,231.1 169.8,230.9 170.5,230.8 171.1,230.7 171.8,230.6 172.5,230.5 173.2,230.3 173.9,230.2 174.6,230.1 175.3,230.0 176.0,229.8 176.7,229.7 177.4,229.6 178.0,229.5 178.7,229.3 179.4,229.2 180.1,229.1 180.8,228.9 181.5,228.8 182.2,228.7 182.9,228.5 183.6,228.4 184.3,228.3 184.9,228.1 185.6,228.0 186.3,227.9 187.0,227.7 187.7,227.6 188.4,227.4 189.1,227.3 189.8,227.1 190.5,227.0 191.1,226.9 191.8,226.7 192.5,226.6 193.2,226.4 193.9,226.3 194.6,226.1 195.3,226.0 195.9,225.8 196.6,225.6 197.3,225.5 198.0,225.3 198.7,225.2 199.4,225.0 200.0,224.8 200.7,224.7 201.4,224.5 202.1,224.4 202.8,224.2 203.5,224.0 204.1,223.9 204.8,223.7 205.5,223.5 206.2,223.3 206.9,223.2 207.5,223.0 208.2,222.8 208.9,222.6 209.6,222.4 210.3,222.3 210.9,222.1 211.6,221.9 212.3,221.7 213.0,221.5 213.6,221.3 214.3,221.1 215.0,220.9 215.7,220.7 216.3,220.5 217.0,220.3 217.7,220.1 218.4,219.9 219.0,219.7 219.7,219.5 220.4,219.3 221.1,219.1 221.7,218.9 222.4,218.7 223.1,218.5 223.7,218.3 224.4,218.0 225.1,217.8 225.7,217.6 226.4,217.4 227.1,217.1 227.7,216.9 228.4,216.7 229.1,216.4 229.7,216.2 230.4,216.0 231.0,215.7 231.7,215.5 232.4,215.2 233.0,215.0 233.7,214.7 234.3,214.5 235.0,214.2 235.6,214.0 236.3,213.7 236.9,213.5 237.6,213.2 238.2,212.9 238.9,212.7 239.5,212.4 240.2,212.1 240.8,211.9 241.5,211.6 242.1,211.3 242.8,211.0 243.4,210.7 244.1,210.4 244.7,210.1 245.3,209.8 246.0,209.6 246.6,209.3 247.2,208.9 247.9,208.6 248.5,208.3 249.1,208.0 249.8,207.7 250.4,207.4 251.0,207.1 251.6,206.8 252.3,206.4 252.9,206.1 253.5,205.8 254.1,205.4 254.7,205.1 255.4,204.8 256.0,204.4 256.6,204.1 257.2,203.7 257.8,203.4 258.4,203.0 259.0,202.7 259.6,202.3 260.2,201.9 260.8,201.6 261.4,201.2 262.0,200.8 262.6,200.4 263.2,200.1 263.8,199.7 264.4,199.3 265.0,198.9 265.5,198.5 266.1,198.1 266.7,197.7 267.3,197.3 267.8,196.9 268.4,196.5 269.0,196.1 269.6,195.7 270.1,195.2 270.7,194.8 271.2,194.4 271.8,194.0 272.3,193.5 272.9,193.1 273.4,192.7 274.0,192.2 274.5,191.8 275.1,191.3 275.6,190.9 276.2,190.4 276.7,190.0 277.2,189.5 277.7,189.0 278.3,188.6 278.8,188.1 279.3,187.6 279.8,187.1 280.3,186.7 280.9,186.2 281.4,185.7 281.9,185.2 282.4,184.7 282.9,184.2 283.4,183.7 283.9,183.2 284.4,182.7 284.8,182.2 285.3,181.7 285.8,181.2 286.3,180.7 286.8,180.1 287.2,179.6 287.7,179.1 288.2,178.6 288.6,178.0 289.1,177.5 289.5,177.0 290.0,176.4 290.5,175.9 290.9,175.3 291.3,174.8 291.8,174.3 292.2,173.7 292.7,173.1 293.1,172.6 293.5,172.0 293.9,171.5 294.4,170.9 294.8,170.3 295.2,169.8 295.6,169.2 296.0,168.6 296.4,168.0 296.8,167.5 297.2,166.9 297.6,166.3 298.0,165.7 298.4,165.1 298.8,164.5 299.2,164.0 299.5,163.4 299.9,162.8 300.3,162.2 300.7,161.6 301.0,161.0 301.4,160.3 301.7,159.7 302.1,159.1 302.5,158.5 302.8,157.9 303.2,157.3 303.5,156.7 303.8,156.1 304.2,155.4 304.5,154.8 304.8,154.2 305.2,153.6 305.5,152.9 305.8,152.3 306.1,151.7 306.4,151.1 306.8,150.4 307.1,149.8 307.4,149.1 307.7,148.5 308.0,147.9 308.3,147.2 308.6,146.6 308.9,145.9 309.1,145.3 309.4,144.7 309.7,144.0 310.0,143.4 310.3,142.7 310.5,142.1 310.8,141.4 311.1,140.7 311.3,140.1 311.6,139.4 311.8,138.8 312.1,138.1 312.3,137.4 312.6,136.8 312.8,136.1 313.1,135.5 313.3,134.8 313.5,134.1 313.8,133.5 314.0,132.8 314.2,132.1 314.5,131.4 314.7,130.8 314.9,130.1 315.1,129.4 315.3,128.8 315.5,128.1 315.7,127.4 315.9,126.7 316.1,126.0 316.3,125.4 316.5,124.7 316.7,124.0 316.9,123.3 317.1,122.6 317.3,121.9 317.5,121.3 317.7,120.6 317.8,119.9 318.0,119.2 318.2,118.5 318.3,117.8 318.5,117.1 318.7,116.4 318.8,115.7 319.0,115.0 319.2,114.3 319.3,113.6 319.5,112.9 319.6,112.2 319.7,111.5 319.9,110.9 320.0,110.2 320.2,109.5 320.3,108.8 320.4,108.1 320.6,107.4 320.7,106.6 320.8,105.9 320.9,105.2 321.1,104.5 321.2,103.8 321.3,103.1 321.4,102.4 321.5,101.7 321.6,101.0 321.7,100.3 321.8,99.6 321.9,98.9 322.0,98.2 322.1,97.5 322.2,96.8 322.3,96.0 322.4,95.3 322.5,94.6 322.6,93.9 322.7,93.2 322.8,92.5 322.9,91.7 322.9,91.0 323.0,90.3 323.1,89.6 323.2,88.9 323.3,88.1 323.3,87.4 323.4,86.7 323.5,86.0 323.5,85.3" fill="none" stroke="#FF00FF" stroke-width="2" stroke-linejoin="round"/>
<path d="M323.02,76.02 L324.62,67.00" fill="none" stroke="#F8766D" stroke-width="2" stroke-dasharray="1.8,1.7"/>
<path d="M322.96,78.01 L324.56,68.00" fill="none" stroke="#B79F00" stroke-width="2" stroke-dasharray="1.8,1.7"/>
<path d="M322.83,80.01 L324.43,69.00" fill="none" stroke="#00BA38" stroke-width="2" stroke-dasharray="1.8,1.7"/>
<path d="M322.66,84.02 L324.26,70.00" fill="none" stroke="#00BFC4" stroke-width="2" stroke-dasharray="1.8,1.7"/>
<path d="M323.05,82.02 L324.65,69.00" fill="none" stroke="#619CFF" stroke-width="2" stroke-dasharray="1.8,1.7"/>
<path d="M323.53,85.31 L325.13,61.30" fill="none" stroke="#FF00FF" stroke-width="2" stroke-dasharray="1.8,1.7"/>
<text x="366.40" y="11.90" font-size="13" fill="#000">(B)</text>
<rect x="413.50" y="4.00" width="286.00" height="241.00" fill="none" stroke="#7f7f7f" stroke-width="1"/>
<line x1="453.90" y1="245.00" x2="453.90" y2="241.50" stroke="#7f7f7f" stroke-width="1"/>
<line x1="453.90" y1="4.00" x2="453.90" y2="7.50" stroke="#7f7f7f" stroke-width="1"/>
<line x1="506.00" y1="245.00" x2="506.00" y2="241.50" stroke="#7f7f7f" stroke-width="1"/>
<line x1="506.00" y1="4.00" x2="506.00" y2="7.50" stroke="#7f7f7f" stroke-width="1"/>
<line x1="558.10" y1="245.00" x2="558.10" y2="241.50" stroke="#7f7f7f" stroke-width="1"/>
<line x1="558.10" y1="4.00" x2="558.10" y2="7.50" stroke="#7f7f7f" stroke-width="1"/>
<line x1="610.20" y1="245.00" x2="610.20" y2="241.50" stroke="#7f7f7f" stroke-width="1"/>
<line x1="610.20" y1="4.00" x2="610.20" y2="7.50" stroke="#7f7f7f" stroke-width="1"/>
<line x1="662.30" y1="245.00" x2="662.30" y2="241.50" stroke="#7f7f7f" stroke-width="1"/>
<line x1="662.30" y1="4.00" x2="662.30" y2="7.50" stroke="#7f7f7f" stroke-width="1"/>
<line x1="413.50" y1="210.15" x2="417.00" y2="210.15" stroke="#7f7f7f" stroke-width="1"/>
<line x1="699.50" y1="210.15" x2="696.00" y2="210.15" stroke="#7f7f7f" stroke-width="1"/>
<line x1="413.50" y1="176.40" x2="417.00" y2="176.40" stroke="#7f7f7f" stroke-width="1"/>
<line x1="699.50" y1="176.40" x2="696.00" y2="176.40" stroke="#7f7f7f" stroke-width="1"/>
<line x1="413.50" y1="142.65" x2="417.00" y2="142.65" stroke="#7f7f7f" stroke-width="1"/>
<line x1="699.50" y1="142.65" x2="696.00" y2="142.65" stroke="#7f7f7f" stroke-width="1"/>
<line x1="413.50" y1="108.90" x2="417.00" y2="108.90" stroke="#7f7f7f" stroke-width="1"/>
<line x1="699.50" y1="108.90" x2="696.00" y2="108.90" stroke="#7f7f7f" stroke-width="1"/>
<line x1="413.50" y1="75.15" x2="417.00" y2="75.15" stroke="#7f7f7f" stroke-width="1"/>
<line x1="699.50" y1="75.15" x2="696.00" y2="75.15" stroke="#7f7f7f" stroke-width="1"/>
<line x1="413.50" y1="41.40" x2="417.00" y2="41.40" stroke="#7f7f7f" stroke-width="1"/>
<line x1="699.50" y1="41.40" x2="696.00" y2="41.40" stroke="#7f7f7f" stroke-width="1"/>
<text x="408.80" y="247.90" font-size="11.4" font-weight="bold" stroke="#000" stroke-width="0.1" text-anchor="end" fill="#000">0</text>
<text x="408.80" y="214.15" font-size="11.4" font-weight="bold" stroke="#000" stroke-width="0.1" text-anchor="end" fill="#000">100</text>
<text x="408.80" y="180.40" font-size="11.4" font-weight="bold" stroke="#000" stroke-width="0.1" text-anchor="end" fill="#000">200</text>
<text x="408.80" y="146.65" font-size="11.4" font-weight="bold" stroke="#000" stroke-width="0.1" text-anchor="end" fill="#000">300</text>
<text x="408.80" y="112.90" font-size="11.4" font-weight="bold" stroke="#000" stroke-width="0.1" text-anchor="end" fill="#000">400</text>
<text x="408.80" y="79.15" font-size="11.4" font-weight="bold" stroke="#000" stroke-width="0.1" text-anchor="end" fill="#000">500</text>
<text x="408.80" y="45.40" font-size="11.4" font-weight="bold" stroke="#000" stroke-width="0.1" text-anchor="end" fill="#000">600</text>
<text x="408.80" y="11.65" font-size="11.4" font-weight="bold" stroke="#000" stroke-width="0.1" text-anchor="end" fill="#000">700</text>
<text x="412.70" y="258.40" font-size="11.4" font-weight="bold" stroke="#000" stroke-width="0.1" text-anchor="middle" fill="#000">0.0</text>
<text x="453.40" y="258.40" font-size="11.4" font-weight="bold" stroke="#000" stroke-width="0.1" text-anchor="middle" fill="#000">0.2</text>
<text x="505.50" y="258.40" font-size="11.4" font-weight="bold" stroke="#000" stroke-width="0.1" text-anchor="middle" fill="#000">0.4</text>
<text x="557.60" y="258.40" font-size="11.4" font-weight="bold" stroke="#000" stroke-width="0.1" text-anchor="middle" fill="#000">0.6</text>
<text x="609.70" y="258.40" font-size="11.4" font-weight="bold" stroke="#000" stroke-width="0.1" text-anchor="middle" fill="#000">0.8</text>
<text x="661.80" y="258.40" font-size="11.4" font-weight="bold" stroke="#000" stroke-width="0.1" text-anchor="middle" fill="#000">1.0</text>
<text x="556.40" y="278.80" font-size="12.5" font-weight="bold" stroke="#000" stroke-width="0.25" text-anchor="middle" fill="#000">Sample coverage</text>
<text transform="translate(382.0,134.0) rotate(-90)" font-size="12.4" font-weight="bold" stroke="#000" stroke-width="0.25" text-anchor="middle">OTU richness</text>
<line x1="427.30" y1="30.60" x2="440.30" y2="30.60" stroke="#F8766D" stroke-width="1.4"/>
<text x="450.80" y="35.00" font-size="9.4" font-weight="bold" fill="#F8766D" letter-spacing="0.45">yr1</text>
<line x1="427.30" y1="47.20" x2="440.30" y2="47.20" stroke="#B79F00" stroke-width="1.4"/>
<text x="450.80" y="51.60" font-size="9.4" font-weight="bold" fill="#B79F00" letter-spacing="0.45">yr5</text>
<line x1="427.30" y1="65.70" x2="440.30" y2="65.70" stroke="#00BA38" stroke-width="1.4"/>
<text x="450.80" y="70.10" font-size="9.4" font-weight="bold" fill="#00BA38" letter-spacing="0.45">yr10</text>
<line x1="427.30" y1="85.00" x2="440.30" y2="85.00" stroke="#00BFC4" stroke-width="1.4"/>
<text x="450.80" y="89.40" font-size="9.4" font-weight="bold" fill="#00BFC4" letter-spacing="0.45">yr15</text>
<line x1="427.30" y1="104.50" x2="440.30" y2="104.50" stroke="#619CFF" stroke-width="1.4"/>
<text x="450.80" y="108.90" font-size="9.4" font-weight="bold" fill="#619CFF" letter-spacing="0.45">yr25</text>
<line x1="427.30" y1="123.30" x2="440.30" y2="123.30" stroke="#FF00FF" stroke-width="1.4"/>
<text x="450.80" y="127.70" font-size="9.4" font-weight="bold" fill="#FF00FF" letter-spacing="0.45">yr30</text>
<line x1="545.00" y1="31.30" x2="570.00" y2="31.30" stroke="#333" stroke-width="1.3"/>
<line x1="545.00" y1="45.50" x2="571.00" y2="45.50" stroke="#333" stroke-width="1.3" stroke-dasharray="1,1"/>
<text x="576.00" y="33.80" font-size="10.3" fill="#222">interpolation</text>
<text x="575.00" y="48.00" font-size="10.3" fill="#222">extrapolation</text>
<path d="M427.0,236.4 427.7,236.3 428.4,236.3 429.1,236.2 429.8,236.1 430.5,236.1 431.2,236.0 431.9,235.9 432.6,235.8 433.3,235.8 434.0,235.7 434.7,235.6 435.4,235.6 436.1,235.5 436.8,235.4 437.5,235.3 438.2,235.3 438.9,235.2 439.6,235.1 440.3,235.1 441.0,235.0 441.7,234.9 442.4,234.8 443.1,234.7 443.8,234.7 444.5,234.6 445.2,234.5 445.9,234.4 446.6,234.4 447.3,234.3 448.0,234.2 448.7,234.1 449.4,234.0 450.1,234.0 450.8,233.9 451.5,233.8 452.2,233.7 452.9,233.6 453.6,233.6 454.3,233.5 455.0,233.4 455.7,233.3 456.4,233.2 457.1,233.1 457.8,233.1 458.5,233.0 459.2,232.9 459.9,232.8 460.6,232.7 461.3,232.6 462.0,232.5 462.6,232.5 463.3,232.4 464.0,232.3 464.7,232.2 465.4,232.1 466.1,232.0 466.8,231.9 467.5,231.8 468.2,231.7 468.9,231.6 469.6,231.5 470.3,231.5 471.0,231.4 471.7,231.3 472.4,231.2 473.1,231.1 473.8,231.0 474.5,230.9 475.2,230.8 475.9,230.7 476.5,230.6 477.2,230.5 477.9,230.4 478.6,230.3 479.3,230.2 480.0,230.1 480.7,230.0 481.4,229.9 482.1,229.8 482.8,229.7 483.5,229.6 484.2,229.5 484.9,229.4 485.6,229.3 486.3,229.1 487.0,229.0 487.7,228.9 488.4,228.8 489.1,228.7 489.8,228.6 490.4,228.5 491.1,228.4 491.8,228.3 492.5,228.2 493.2,228.1 493.9,227.9 494.6,227.8 495.3,227.7 496.0,227.6 496.7,227.5 497.4,227.4 498.1,227.2 498.8,227.1 499.5,227.0 500.2,226.9 500.9,226.8 501.5,226.6 502.2,226.5 502.9,226.4 503.6,226.3 504.3,226.2 505.0,226.0 505.7,225.9 506.4,225.8 507.1,225.7 507.8,225.5 508.4,225.4 509.1,225.3 509.8,225.2 510.5,225.0 511.2,224.9 511.9,224.8 512.6,224.6 513.3,224.5 514.0,224.4 514.7,224.2 515.3,224.1 516.0,224.0 516.7,223.8 517.4,223.7 518.1,223.5 518.8,223.4 519.5,223.3 520.2,223.1 520.9,223.0 521.6,222.8 522.2,222.7 522.9,222.6 523.6,222.4 524.3,222.3 525.0,222.1 525.7,222.0 526.4,221.8 527.0,221.7 527.7,221.5 528.4,221.4 529.1,221.2 529.8,221.1 530.5,220.9 531.2,220.8 531.8,220.6 532.5,220.5 533.2,220.3 533.9,220.1 534.6,220.0 535.3,219.8 536.0,219.7 536.6,219.5 537.3,219.3 538.0,219.2 538.7,219.0 539.4,218.8 540.1,218.7 540.7,218.5 541.4,218.3 542.1,218.2 542.8,218.0 543.5,217.8 544.1,217.6 544.8,217.5 545.5,217.3 546.2,217.1 546.9,216.9 547.5,216.8 548.2,216.6 548.9,216.4 549.6,216.2 550.3,216.0 550.9,215.9 551.6,215.7 552.3,215.5 553.0,215.3 553.6,215.1 554.3,214.9 555.0,214.7 555.7,214.5 556.3,214.3 557.0,214.2 557.7,214.0 558.4,213.8 559.0,213.6 559.7,213.4 560.4,213.2 561.1,213.0 561.7,212.8 562.4,212.6 563.1,212.4 563.8,212.1 564.4,211.9 565.1,211.7 565.8,211.5 566.4,211.3 567.1,211.1 567.8,210.9 568.4,210.7 569.1,210.5 569.8,210.2 570.5,210.0 571.1,209.8 571.8,209.6 572.5,209.4 573.1,209.1 573.8,208.9 574.4,208.7 575.1,208.4 575.8,208.2 576.4,208.0 577.1,207.7 577.8,207.5 578.4,207.3 579.1,207.0 579.7,206.8 580.4,206.6 581.1,206.3 581.7,206.1 582.4,205.8 583.0,205.6 583.7,205.3 584.4,205.1 585.0,204.8 585.7,204.6 586.3,204.3 587.0,204.1 587.6,203.8 588.3,203.5 588.9,203.3 589.6,203.0 590.2,202.8 590.9,202.5 591.5,202.2 592.2,202.0 592.8,201.7 593.5,201.4 594.1,201.1 594.8,200.9 595.4,200.6 596.1,200.3 596.7,200.0 597.4,199.7 598.0,199.4 598.6,199.2 599.3,198.9 599.9,198.6 600.6,198.3 601.2,198.0 601.8,197.7 602.5,197.4 603.1,197.1 603.7,196.8 604.4,196.5 605.0,196.2 605.6,195.9 606.3,195.6 606.9,195.2 607.5,194.9 608.1,194.6 608.8,194.3 609.4,194.0 610.0,193.6 610.6,193.3 611.3,193.0 611.9,192.7 612.5,192.3 613.1,192.0 613.7,191.7 614.4,191.3 615.0,191.0 615.6,190.6 616.2,190.3 616.8,189.9 617.4,189.6 618.0,189.2 618.6,188.9 619.2,188.5 619.8,188.2 620.4,187.8 621.0,187.4 621.6,187.1 622.2,186.7 622.8,186.3 623.4,186.0 624.0,185.6 624.6,185.2 625.2,184.8 625.8,184.4 626.4,184.1 627.0,183.7 627.6,183.3 628.1,182.9 628.7,182.5 629.3,182.1 629.9,181.7 630.4,181.3 631.0,180.9 631.6,180.5 632.2,180.0 632.7,179.6 633.3,179.2 633.9,178.8 634.4,178.4 635.0,177.9 635.5,177.5 636.1,177.1 636.6,176.6 637.2,176.2 637.7,175.8 638.3,175.3 638.8,174.9 639.4,174.4 639.9,174.0 640.4,173.5 641.0,173.1 641.5,172.6 642.0,172.1 642.6,171.7 643.1,171.2 643.6,170.7 644.1,170.2 644.6,169.8 645.1,169.3 645.7,168.8 646.2,168.3 646.7,167.8 647.2,167.3 647.7,166.8 648.2,166.3 648.6,165.8 649.1,165.3 649.6,164.8 650.1,164.3 650.6,163.8 651.1,163.3 651.5,162.7 652.0,162.2 652.5,161.7 652.9,161.2 653.4,160.6 653.8,160.1 654.3,159.5 654.7,159.0 655.2,158.5 655.6,157.9 656.1,157.3 656.5,156.8 656.9,156.2 657.4,155.7 657.8,155.1 658.2,154.5 658.6,154.0 659.0,153.4 659.4,152.8 659.8,152.3 660.2,151.7 660.6,151.1 661.0,150.5 661.4,149.9 661.8,149.3 662.2,148.7 662.5,148.1 662.9,147.5 663.3,146.9 663.7,146.3 664.0,145.7 664.4,145.1 664.7,144.5 665.1,143.9 665.4,143.3 665.8,142.7 666.1,142.0 666.4,141.4 666.7,140.8 667.1,140.2 667.4,139.5 667.7,138.9 668.0,138.3 668.3,137.7 668.6,137.0 668.9,136.4 669.2,135.7 669.5,135.1 669.8,134.4 670.1,133.8 670.4,133.2 670.7,132.5 670.9,131.8 671.2,131.2 671.5,130.5 671.7,129.9 672.0,129.2 672.2,128.6 672.5,127.9 672.7,127.2 673.0,126.6 673.2,125.9 673.5,125.2 673.7,124.6 673.9,123.9 674.2,123.2 674.4,122.6 674.6,121.9 674.8,121.2 675.0,120.5 675.3,119.9 675.5,119.2 675.7,118.5 675.9,117.8 676.1,117.2 676.3,116.5 676.5,115.8 676.7,115.1 676.8,114.4 677.0,113.7 677.2,113.1 677.4,112.4 677.6,111.7 677.7,111.0 677.9,110.3 678.1,109.6 678.2,108.9 678.4,108.2 678.6,107.6 678.7,106.9 678.9,106.2 679.0,105.5 679.2,104.8 679.3,104.1 679.5,103.4 679.6,102.7 679.8,102.0 679.9,101.3 680.1,100.6 680.2,99.9 680.3,99.2 680.5,98.5 680.6,97.8 680.7,97.1 680.8,96.4 681.0,95.7 681.1,95.0 681.2,94.3 681.3,93.6 681.5,92.9 681.6,92.2 681.7,91.5 681.8,90.8 681.9,90.1 681.9,90.0" fill="none" stroke="#F8766D" stroke-width="1.9" stroke-linejoin="round"/>
<path d="M427.0,237.5 427.7,237.4 428.4,237.4 429.1,237.3 429.8,237.3 430.5,237.2 431.2,237.1 431.9,237.1 432.6,237.0 433.3,237.0 434.0,236.9 434.7,236.8 435.4,236.8 436.1,236.7 436.8,236.6 437.5,236.6 438.2,236.5 438.9,236.5 439.6,236.4 440.3,236.3 441.0,236.3 441.7,236.2 442.4,236.1 443.1,236.1 443.8,236.0 444.5,235.9 445.2,235.9 445.9,235.8 446.6,235.7 447.3,235.7 448.0,235.6 448.7,235.5 449.4,235.5 450.1,235.4 450.8,235.3 451.5,235.3 452.2,235.2 452.9,235.1 453.6,235.0 454.3,235.0 455.0,234.9 455.7,234.8 456.4,234.8 457.1,234.7 457.8,234.6 458.5,234.5 459.2,234.5 459.9,234.4 460.6,234.3 461.3,234.2 462.0,234.2 462.7,234.1 463.4,234.0 464.1,233.9 464.8,233.9 465.5,233.8 466.2,233.7 466.9,233.6 467.6,233.5 468.3,233.5 469.0,233.4 469.7,233.3 470.4,233.2 471.1,233.1 471.8,233.1 472.5,233.0 473.2,232.9 473.9,232.8 474.6,232.7 475.3,232.6 476.0,232.6 476.7,232.5 477.4,232.4 478.1,232.3 478.8,232.2 479.5,232.1 480.2,232.0 480.9,232.0 481.6,231.9 482.2,231.8 482.9,231.7 483.6,231.6 484.3,231.5 485.0,231.4 485.7,231.3 486.4,231.2 487.1,231.2 487.8,231.1 488.5,231.0 489.2,230.9 489.9,230.8 490.6,230.7 491.3,230.6 492.0,230.5 492.7,230.4 493.4,230.3 494.1,230.2 494.8,230.1 495.5,230.0 496.1,229.9 496.8,229.8 497.5,229.7 498.2,229.6 498.9,229.5 499.6,229.4 500.3,229.3 501.0,229.2 501.7,229.1 502.4,229.0 503.1,228.9 503.8,228.8 504.5,228.7 505.2,228.6 505.9,228.5 506.6,228.3 507.3,228.2 508.0,228.1 508.7,228.0 509.4,227.9 510.0,227.8 510.7,227.7 511.4,227.6 512.1,227.5 512.8,227.3 513.5,227.2 514.2,227.1 514.9,227.0 515.6,226.9 516.3,226.7 517.0,226.6 517.7,226.5 518.4,226.4 519.1,226.3 519.8,226.1 520.4,226.0 521.1,225.9 521.8,225.8 522.5,225.7 523.2,225.5 523.9,225.4 524.6,225.3 525.3,225.1 526.0,225.0 526.7,224.9 527.3,224.8 528.0,224.6 528.7,224.5 529.4,224.4 530.1,224.2 530.8,224.1 531.5,224.0 532.2,223.8 532.9,223.7 533.6,223.5 534.2,223.4 534.9,223.3 535.6,223.1 536.3,223.0 537.0,222.8 537.7,222.7 538.4,222.5 539.1,222.4 539.7,222.2 540.4,222.1 541.1,222.0 541.8,221.8 542.5,221.7 543.2,221.5 543.9,221.3 544.5,221.2 545.2,221.0 545.9,220.9 546.6,220.7 547.3,220.6 548.0,220.4 548.7,220.3 549.3,220.1 550.0,219.9 550.7,219.8 551.4,219.6 552.1,219.4 552.8,219.3 553.4,219.1 554.1,218.9 554.8,218.8 555.5,218.6 556.2,218.4 556.8,218.2 557.5,218.1 558.2,217.9 558.9,217.7 559.6,217.5 560.2,217.4 560.9,217.2 561.6,217.0 562.3,216.8 563.0,216.6 563.6,216.4 564.3,216.3 565.0,216.1 565.7,215.9 566.3,215.7 567.0,215.5 567.7,215.3 568.4,215.1 569.0,214.9 569.7,214.7 570.4,214.5 571.1,214.3 571.7,214.1 572.4,213.9 573.1,213.7 573.7,213.5 574.4,213.3 575.1,213.1 575.8,212.9 576.4,212.6 577.1,212.4 577.8,212.2 578.4,212.0 579.1,211.8 579.8,211.6 580.4,211.3 581.1,211.1 581.8,210.9 582.4,210.7 583.1,210.4 583.8,210.2 584.4,210.0 585.1,209.7 585.8,209.5 586.4,209.3 587.1,209.0 587.7,208.8 588.4,208.6 589.1,208.3 589.7,208.1 590.4,207.8 591.0,207.6 591.7,207.3 592.3,207.1 593.0,206.8 593.6,206.6 594.3,206.3 595.0,206.0 595.6,205.8 596.3,205.5 596.9,205.3 597.6,205.0 598.2,204.7 598.9,204.4 599.5,204.2 600.1,203.9 600.8,203.6 601.4,203.3 602.1,203.1 602.7,202.8 603.4,202.5 604.0,202.2 604.6,201.9 605.3,201.6 605.9,201.3 606.6,201.0 607.2,200.7 607.8,200.4 608.5,200.1 609.1,199.8 609.7,199.5 610.4,199.2 611.0,198.9 611.6,198.6 612.2,198.3 612.9,197.9 613.5,197.6 614.1,197.3 614.7,197.0 615.4,196.6 616.0,196.3 616.6,196.0 617.2,195.6 617.8,195.3 618.4,195.0 619.1,194.6 619.7,194.3 620.3,193.9 620.9,193.6 621.5,193.2 622.1,192.9 622.7,192.5 623.3,192.1 623.9,191.8 624.5,191.4 625.1,191.0 625.7,190.7 626.3,190.3 626.9,189.9 627.5,189.5 628.1,189.1 628.7,188.8 629.2,188.4 629.8,188.0 630.4,187.6 631.0,187.2 631.6,186.8 632.1,186.4 632.7,186.0 633.3,185.6 633.8,185.1 634.4,184.7 635.0,184.3 635.5,183.9 636.1,183.5 636.7,183.0 637.2,182.6 637.8,182.2 638.3,181.7 638.9,181.3 639.4,180.8 640.0,180.4 640.5,179.9 641.0,179.5 641.6,179.0 642.1,178.6 642.6,178.1 643.2,177.6 643.7,177.2 644.2,176.7 644.7,176.2 645.2,175.7 645.8,175.3 646.3,174.8 646.8,174.3 647.3,173.8 647.8,173.3 648.3,172.8 648.8,172.3 649.3,171.8 649.7,171.3 650.2,170.8 650.7,170.3 651.2,169.8 651.7,169.2 652.1,168.7 652.6,168.2 653.1,167.7 653.5,167.1 654.0,166.6 654.4,166.0 654.9,165.5 655.3,165.0 655.8,164.4 656.2,163.9 656.6,163.3 657.1,162.7 657.5,162.2 657.9,161.6 658.3,161.1 658.8,160.5 659.2,159.9 659.6,159.3 660.0,158.8 660.4,158.2 660.8,157.6 661.2,157.0 661.5,156.4 661.9,155.8 662.3,155.2 662.7,154.6 663.1,154.0 663.4,153.4 663.8,152.8 664.1,152.2 664.5,151.6 664.8,151.0 665.2,150.4 665.5,149.8 665.9,149.2 666.2,148.5 666.5,147.9 666.9,147.3 667.2,146.6 667.5,146.0 667.8,145.4 668.1,144.7 668.4,144.1 668.7,143.5 669.0,142.8 669.3,142.2 669.6,141.5 669.9,140.9 670.2,140.2 670.4,139.6 670.7,138.9 671.0,138.3 671.2,137.6 671.5,137.0 671.7,136.3 672.0,135.6 672.3,135.0 672.5,134.3 672.7,133.7 673.0,133.0 673.2,132.3 673.4,131.6 673.7,131.0 673.9,130.3 674.1,129.6 674.3,129.0 674.5,128.3 674.8,127.6 675.0,126.9 675.2,126.3 675.4,125.6 675.6,124.9 675.8,124.2 675.9,123.5 676.1,122.8 676.3,122.2 676.5,121.5 676.7,120.8 676.9,120.1 677.0,119.4 677.2,118.7 677.4,118.0 677.5,117.3 677.7,116.6 677.9,115.9 678.0,115.3 678.2,114.6 678.3,113.9 678.5,113.2 678.6,112.5 678.8,111.8 678.9,111.1 679.0,110.4 679.2,109.7 679.3,109.0 679.4,108.3 679.6,107.6 679.7,106.9 679.8,106.2 680.0,105.5 680.1,104.8 680.2,104.1 680.3,103.4 680.4,102.7 680.5,102.0 680.7,101.2 680.8,100.5 680.9,99.8 681.0,99.1 681.1,98.4 681.2,97.7 681.3,97.0 681.4,96.3 681.5,95.6 681.6,94.9 681.7,94.2 681.8,93.4 681.9,92.7 682.0,92.0 682.1,91.3 682.1,90.6 682.2,89.9 682.3,89.1 682.4,88.4 682.5,87.7 682.6,87.0" fill="none" stroke="#B79F00" stroke-width="1.9" stroke-linejoin="round"/>
<path d="M427.0,239.3 427.7,239.2 428.4,239.1 429.1,239.1 429.8,239.0 430.5,239.0 431.2,238.9 431.9,238.8 432.6,238.8 433.3,238.7 434.0,238.7 434.7,238.6 435.4,238.5 436.1,238.5 436.8,238.4 437.5,238.4 438.2,238.3 438.9,238.2 439.6,238.2 440.3,238.1 441.0,238.0 441.7,238.0 442.4,237.9 443.1,237.8 443.8,237.8 444.5,237.7 445.2,237.7 445.9,237.6 446.6,237.5 447.3,237.5 448.0,237.4 448.7,237.3 449.4,237.3 450.1,237.2 450.8,237.1 451.5,237.0 452.2,237.0 452.9,236.9 453.6,236.8 454.3,236.8 455.0,236.7 455.7,236.6 456.4,236.6 457.1,236.5 457.8,236.4 458.5,236.3 459.2,236.3 459.9,236.2 460.6,236.1 461.3,236.0 462.0,236.0 462.7,235.9 463.4,235.8 464.1,235.7 464.8,235.7 465.5,235.6 466.2,235.5 466.9,235.4 467.6,235.4 468.3,235.3 469.0,235.2 469.7,235.1 470.4,235.0 471.1,235.0 471.8,234.9 472.5,234.8 473.2,234.7 473.9,234.6 474.6,234.6 475.3,234.5 476.0,234.4 476.7,234.3 477.4,234.2 478.1,234.1 478.8,234.0 479.5,234.0 480.2,233.9 480.9,233.8 481.6,233.7 482.3,233.6 483.0,233.5 483.7,233.4 484.3,233.4 485.0,233.3 485.7,233.2 486.4,233.1 487.1,233.0 487.8,232.9 488.5,232.8 489.2,232.7 489.9,232.6 490.6,232.5 491.3,232.5 492.0,232.4 492.7,232.3 493.4,232.2 494.1,232.1 494.8,232.0 495.5,231.9 496.2,231.8 496.9,231.7 497.6,231.6 498.2,231.5 498.9,231.4 499.6,231.3 500.3,231.2 501.0,231.1 501.7,231.0 502.4,230.9 503.1,230.8 503.8,230.7 504.5,230.6 505.2,230.5 505.9,230.4 506.6,230.3 507.3,230.2 508.0,230.1 508.7,230.0 509.4,229.8 510.1,229.7 510.8,229.6 511.5,229.5 512.1,229.4 512.8,229.3 513.5,229.2 514.2,229.1 514.9,229.0 515.6,228.8 516.3,228.7 517.0,228.6 517.7,228.5 518.4,228.4 519.1,228.3 519.8,228.2 520.5,228.0 521.2,227.9 521.9,227.8 522.6,227.7 523.3,227.6 523.9,227.4 524.6,227.3 525.3,227.2 526.0,227.1 526.7,227.0 527.4,226.8 528.1,226.7 528.8,226.6 529.5,226.5 530.2,226.3 530.8,226.2 531.5,226.1 532.2,225.9 532.9,225.8 533.6,225.7 534.3,225.6 535.0,225.4 535.7,225.3 536.4,225.2 537.1,225.0 537.7,224.9 538.4,224.8 539.1,224.6 539.8,224.5 540.5,224.3 541.2,224.2 541.9,224.1 542.6,223.9 543.3,223.8 544.0,223.6 544.6,223.5 545.3,223.4 546.0,223.2 546.7,223.1 547.4,222.9 548.1,222.8 548.8,222.6 549.4,222.5 550.1,222.3 550.8,222.2 551.5,222.0 552.2,221.9 552.9,221.7 553.6,221.6 554.2,221.4 554.9,221.3 555.6,221.1 556.3,220.9 557.0,220.8 557.7,220.6 558.4,220.5 559.0,220.3 559.7,220.1 560.4,220.0 561.1,219.8 561.8,219.6 562.5,219.5 563.1,219.3 563.8,219.1 564.5,219.0 565.2,218.8 565.9,218.6 566.5,218.5 567.2,218.3 567.9,218.1 568.6,217.9 569.3,217.8 569.9,217.6 570.6,217.4 571.3,217.2 572.0,217.0 572.7,216.9 573.3,216.7 574.0,216.5 574.7,216.3 575.4,216.1 576.1,215.9 576.7,215.7 577.4,215.5 578.1,215.4 578.8,215.2 579.4,215.0 580.1,214.8 580.8,214.6 581.5,214.4 582.1,214.2 582.8,214.0 583.5,213.8 584.2,213.6 584.8,213.4 585.5,213.2 586.2,213.0 586.8,212.7 587.5,212.5 588.2,212.3 588.8,212.1 589.5,211.9 590.2,211.7 590.9,211.5 591.5,211.2 592.2,211.0 592.9,210.8 593.5,210.6 594.2,210.4 594.8,210.1 595.5,209.9 596.2,209.7 596.8,209.4 597.5,209.2 598.2,209.0 598.8,208.7 599.5,208.5 600.1,208.3 600.8,208.0 601.5,207.8 602.1,207.5 602.8,207.3 603.4,207.0 604.1,206.8 604.8,206.5 605.4,206.3 606.1,206.0 606.7,205.8 607.4,205.5 608.0,205.3 608.7,205.0 609.3,204.7 610.0,204.5 610.6,204.2 611.3,203.9 611.9,203.6 612.6,203.4 613.2,203.1 613.9,202.8 614.5,202.5 615.1,202.3 615.8,202.0 616.4,201.7 617.1,201.4 617.7,201.1 618.3,200.8 619.0,200.5 619.6,200.2 620.2,199.9 620.9,199.6 621.5,199.3 622.1,199.0 622.8,198.7 623.4,198.3 624.0,198.0 624.7,197.7 625.3,197.4 625.9,197.0 626.5,196.7 627.1,196.4 627.8,196.1 628.4,195.7 629.0,195.4 629.6,195.0 630.2,194.7 630.8,194.3 631.4,194.0 632.0,193.6 632.6,193.3 633.2,192.9 633.8,192.5 634.4,192.2 635.0,191.8 635.6,191.4 636.2,191.0 636.8,190.6 637.4,190.3 638.0,189.9 638.6,189.5 639.1,189.1 639.7,188.7 640.3,188.3 640.9,187.9 641.4,187.4 642.0,187.0 642.6,186.6 643.1,186.2 643.7,185.7 644.2,185.3 644.8,184.9 645.3,184.4 645.9,184.0 646.4,183.5 646.9,183.1 647.5,182.6 648.0,182.2 648.5,181.7 649.1,181.2 649.6,180.8 650.1,180.3 650.6,179.8 651.1,179.3 651.6,178.8 652.1,178.3 652.6,177.8 653.1,177.3 653.6,176.8 654.1,176.3 654.5,175.8 655.0,175.2 655.5,174.7 655.9,174.2 656.4,173.7 656.8,173.1 657.3,172.6 657.7,172.0 658.1,171.5 658.6,170.9 659.0,170.4 659.4,169.8 659.8,169.2 660.2,168.7 660.7,168.1 661.1,167.5 661.4,166.9 661.8,166.4 662.2,165.8 662.6,165.2 663.0,164.6 663.3,164.0 663.7,163.4 664.1,162.8 664.4,162.2 664.8,161.5 665.1,160.9 665.5,160.3 665.8,159.7 666.1,159.0 666.5,158.4 666.8,157.8 667.1,157.1 667.4,156.5 667.7,155.9 668.0,155.2 668.3,154.6 668.6,153.9 668.9,153.3 669.2,152.6 669.4,152.0 669.7,151.3 670.0,150.7 670.2,150.0 670.5,149.3 670.7,148.7 671.0,148.0 671.2,147.3 671.5,146.7 671.7,146.0 671.9,145.4 672.2,144.7 672.4,144.0 672.6,143.3 672.8,142.7 673.0,142.0 673.2,141.3 673.5,140.6 673.7,140.0 673.9,139.3 674.1,138.6 674.2,137.9 674.4,137.2 674.6,136.6 674.8,135.9 675.0,135.2 675.2,134.5 675.3,133.8 675.5,133.1 675.7,132.4 675.9,131.7 676.0,131.1 676.2,130.4 676.3,129.7 676.5,129.0 676.6,128.3 676.8,127.6 676.9,126.9 677.1,126.2 677.2,125.5 677.4,124.8 677.5,124.1 677.7,123.4 677.8,122.7 677.9,122.0 678.1,121.3 678.2,120.6 678.3,119.9 678.5,119.2 678.6,118.5 678.7,117.8 678.8,117.1 678.9,116.4 679.1,115.7 679.2,115.0 679.3,114.3 679.4,113.6 679.5,112.9 679.6,112.2 679.7,111.4 679.8,110.8 680.0,110.0 680.1,109.3 680.2,108.6 680.3,107.9 680.4,107.2 680.5,106.5 680.6,105.8 680.7,105.0 680.8,104.3 680.8,103.6 680.9,102.9 681.0,102.2 681.1,101.5 681.2,100.7 681.3,100.0 681.4,99.3 681.5,98.6 681.6,97.9 681.6,97.2 681.7,96.4 681.8,95.7 681.9,95.0 682.0,94.3 682.0,93.5 682.1,92.8 682.2,92.1 682.3,91.4 682.4,90.7 682.4,89.9 682.5,89.2 682.6,88.5 682.6,87.8 682.7,87.1 682.8,86.4 682.9,85.6 682.9,84.9 683.0,84.1 683.1,83.4 683.1,82.7 683.2,82.0" fill="none" stroke="#00BA38" stroke-width="1.9" stroke-linejoin="round"/>
<path d="M426.3,238.3 427.0,238.3 427.7,238.3 428.4,238.2 429.1,238.2 429.8,238.1 430.5,238.1 431.2,238.1 431.9,238.0 432.6,238.0 433.3,238.0 434.0,237.9 434.7,237.9 435.4,237.8 436.1,237.8 436.8,237.7 437.5,237.7 438.2,237.7 438.9,237.6 439.6,237.6 440.3,237.5 441.0,237.5 441.7,237.5 442.4,237.4 443.1,237.4 443.8,237.3 444.5,237.3 445.2,237.2 445.9,237.2 446.6,237.1 447.3,237.1 448.0,237.1 448.7,237.0 449.4,237.0 450.1,236.9 450.8,236.9 451.5,236.8 452.2,236.8 452.9,236.7 453.6,236.7 454.3,236.6 455.0,236.6 455.7,236.5 456.4,236.5 457.1,236.4 457.8,236.4 458.5,236.3 459.2,236.3 459.9,236.2 460.6,236.2 461.3,236.1 462.0,236.1 462.7,236.0 463.4,236.0 464.1,235.9 464.8,235.9 465.5,235.8 466.2,235.8 466.9,235.7 467.6,235.7 468.3,235.6 469.0,235.6 469.7,235.5 470.4,235.4 471.1,235.4 471.8,235.3 472.5,235.3 473.2,235.2 473.9,235.2 474.6,235.1 475.3,235.1 476.0,235.0 476.7,234.9 477.4,234.9 478.1,234.8 478.8,234.8 479.5,234.7 480.2,234.6 480.9,234.6 481.6,234.5 482.3,234.5 483.0,234.4 483.7,234.3 484.4,234.3 485.1,234.2 485.8,234.1 486.5,234.1 487.2,234.0 487.9,233.9 488.6,233.9 489.3,233.8 490.0,233.7 490.7,233.7 491.4,233.6 492.1,233.5 492.8,233.5 493.5,233.4 494.2,233.3 494.9,233.3 495.6,233.2 496.3,233.1 497.0,233.1 497.7,233.0 498.4,232.9 499.1,232.8 499.8,232.8 500.5,232.7 501.2,232.6 501.9,232.6 502.6,232.5 503.3,232.4 504.0,232.3 504.7,232.3 505.4,232.2 506.1,232.1 506.8,232.0 507.5,231.9 508.2,231.9 508.9,231.8 509.6,231.7 510.3,231.6 511.0,231.5 511.7,231.5 512.4,231.4 513.1,231.3 513.8,231.2 514.5,231.1 515.2,231.0 515.9,231.0 516.6,230.9 517.3,230.8 518.0,230.7 518.7,230.6 519.4,230.5 520.1,230.5 520.8,230.4 521.5,230.3 522.1,230.2 522.8,230.1 523.5,230.0 524.2,229.9 524.9,229.8 525.6,229.7 526.3,229.6 527.0,229.5 527.7,229.5 528.4,229.4 529.1,229.3 529.8,229.2 530.5,229.1 531.2,229.0 531.9,228.9 532.6,228.8 533.3,228.7 534.0,228.6 534.7,228.5 535.4,228.4 536.0,228.3 536.7,228.2 537.4,228.1 538.1,228.0 538.8,227.9 539.5,227.8 540.2,227.6 540.9,227.5 541.6,227.4 542.3,227.3 543.0,227.2 543.7,227.1 544.4,227.0 545.1,226.9 545.8,226.8 546.5,226.7 547.2,226.5 547.9,226.4 548.6,226.3 549.3,226.2 549.9,226.1 550.6,226.0 551.3,225.8 552.0,225.7 552.7,225.6 553.4,225.5 554.1,225.4 554.8,225.2 555.5,225.1 556.2,225.0 556.9,224.9 557.5,224.7 558.2,224.6 558.9,224.5 559.6,224.4 560.3,224.2 561.0,224.1 561.7,224.0 562.4,223.8 563.1,223.7 563.8,223.6 564.4,223.4 565.1,223.3 565.8,223.2 566.5,223.0 567.2,222.9 567.9,222.7 568.6,222.6 569.3,222.5 570.0,222.3 570.7,222.2 571.3,222.0 572.0,221.9 572.7,221.7 573.4,221.6 574.1,221.4 574.8,221.3 575.4,221.1 576.1,221.0 576.8,220.8 577.5,220.7 578.2,220.5 578.9,220.4 579.6,220.2 580.2,220.0 580.9,219.9 581.6,219.7 582.3,219.5 583.0,219.4 583.7,219.2 584.3,219.0 585.0,218.9 585.7,218.7 586.4,218.5 587.1,218.4 587.7,218.2 588.4,218.0 589.1,217.8 589.8,217.7 590.5,217.5 591.1,217.3 591.8,217.1 592.5,216.9 593.2,216.7 593.9,216.6 594.5,216.4 595.2,216.2 595.9,216.0 596.6,215.8 597.2,215.6 597.9,215.4 598.6,215.2 599.3,215.0 599.9,214.8 600.6,214.6 601.3,214.4 602.0,214.2 602.6,214.0 603.3,213.8 604.0,213.6 604.6,213.4 605.3,213.1 606.0,212.9 606.6,212.7 607.3,212.5 608.0,212.3 608.6,212.0 609.3,211.8 610.0,211.6 610.6,211.3 611.3,211.1 612.0,210.9 612.6,210.6 613.3,210.4 613.9,210.1 614.6,209.9 615.3,209.7 615.9,209.4 616.6,209.2 617.2,208.9 617.9,208.6 618.5,208.4 619.2,208.1 619.8,207.9 620.5,207.6 621.1,207.3 621.8,207.1 622.4,206.8 623.1,206.5 623.7,206.2 624.4,205.9 625.0,205.6 625.6,205.4 626.3,205.1 626.9,204.8 627.6,204.5 628.2,204.2 628.8,203.9 629.5,203.6 630.1,203.2 630.7,202.9 631.3,202.6 632.0,202.3 632.6,202.0 633.2,201.6 633.8,201.3 634.4,201.0 635.1,200.6 635.7,200.3 636.3,199.9 636.9,199.6 637.5,199.2 638.1,198.9 638.7,198.5 639.3,198.1 639.9,197.7 640.5,197.4 641.1,197.0 641.7,196.6 642.3,196.2 642.8,195.8 643.4,195.4 644.0,195.0 644.6,194.6 645.1,194.2 645.7,193.8 646.3,193.3 646.8,192.9 647.4,192.5 647.9,192.0 648.5,191.6 649.0,191.1 649.5,190.7 650.1,190.2 650.6,189.8 651.1,189.3 651.6,188.8 652.1,188.3 652.7,187.8 653.2,187.3 653.7,186.8 654.2,186.3 654.6,185.8 655.1,185.3 655.6,184.8 656.1,184.3 656.5,183.8 657.0,183.2 657.5,182.7 657.9,182.1 658.4,181.6 658.8,181.0 659.2,180.5 659.6,179.9 660.1,179.4 660.5,178.8 660.9,178.2 661.3,177.6 661.7,177.1 662.1,176.5 662.5,175.9 662.8,175.3 663.2,174.7 663.6,174.1 663.9,173.5 664.3,172.9 664.6,172.2 665.0,171.6 665.3,171.0 665.6,170.4 666.0,169.8 666.3,169.1 666.6,168.5 666.9,167.9 667.2,167.2 667.5,166.6 667.8,165.9 668.1,165.3 668.4,164.6 668.7,164.0 668.9,163.3 669.2,162.7 669.5,162.0 669.7,161.3 670.0,160.7 670.2,160.0 670.5,159.4 670.7,158.7 671.0,158.0 671.2,157.4 671.4,156.7 671.7,156.0 671.9,155.4 672.1,154.7 672.3,154.0 672.5,153.3 672.7,152.6 672.9,152.0 673.1,151.3 673.3,150.6 673.5,149.9 673.7,149.2 673.9,148.6 674.1,147.9 674.2,147.2 674.4,146.5 674.6,145.8 674.8,145.1 674.9,144.4 675.1,143.7 675.3,143.0 675.4,142.3 675.6,141.7 675.7,141.0 675.9,140.3 676.0,139.6 676.2,138.9 676.3,138.2 676.5,137.5 676.6,136.8 676.7,136.1 676.9,135.4 677.0,134.7 677.2,134.0 677.3,133.3 677.4,132.6 677.5,131.9 677.7,131.2 677.8,130.5 677.9,129.8 678.0,129.1 678.1,128.3 678.3,127.6 678.4,126.9 678.5,126.2 678.6,125.5 678.7,124.8 678.8,124.1 678.9,123.4 679.0,122.7 679.1,122.0 679.2,121.3 679.3,120.6 679.4,119.9 679.5,119.2 679.6,118.4 679.7,117.7 679.8,117.0 679.9,116.3 680.0,115.6 680.1,114.9 680.2,114.2 680.3,113.4 680.4,112.7 680.5,112.0 680.6,111.3 680.6,110.6 680.7,109.9 680.8,109.1 680.9,108.4 681.0,107.7 681.0,107.0 681.1,106.3 681.2,105.6 681.3,104.8 681.4,104.1 681.4,103.4 681.5,102.7 681.6,102.0 681.7,101.2 681.7,100.5 681.8,99.8 681.9,99.1 681.9,98.4 682.0,97.6 682.1,96.9 682.2,96.2 682.2,95.5 682.3,94.7 682.4,94.0 682.4,93.3 682.5,92.6 682.5,91.8 682.6,91.1 682.7,90.3 682.7,89.6 682.8,88.9 682.9,88.2 682.9,87.5 683.0,86.8 683.0,86.0 683.1,85.3 683.2,84.5 683.2,83.8 683.3,83.1 683.3,82.4 683.3,82.1" fill="none" stroke="#00BFC4" stroke-width="1.9" stroke-linejoin="round"/>
<path d="M427.0,240.4 427.7,240.3 428.4,240.3 429.1,240.2 429.8,240.2 430.5,240.2 431.2,240.1 431.9,240.1 432.6,240.0 433.3,240.0 434.0,240.0 434.7,239.9 435.4,239.9 436.1,239.9 436.8,239.8 437.5,239.8 438.2,239.7 438.9,239.7 439.6,239.6 440.3,239.6 441.0,239.6 441.7,239.5 442.4,239.5 443.1,239.4 443.8,239.4 444.5,239.4 445.2,239.3 445.9,239.3 446.6,239.2 447.3,239.2 448.0,239.1 448.7,239.1 449.4,239.1 450.1,239.0 450.8,239.0 451.5,238.9 452.2,238.9 452.9,238.8 453.6,238.8 454.3,238.7 455.0,238.7 455.7,238.6 456.4,238.6 457.1,238.6 457.8,238.5 458.5,238.5 459.2,238.4 459.9,238.4 460.6,238.3 461.3,238.3 462.0,238.2 462.7,238.2 463.4,238.1 464.1,238.1 464.8,238.0 465.5,238.0 466.2,237.9 466.9,237.9 467.6,237.8 468.3,237.8 469.0,237.7 469.7,237.7 470.4,237.6 471.1,237.6 471.8,237.5 472.5,237.5 473.2,237.4 473.9,237.3 474.6,237.3 475.3,237.2 476.0,237.2 476.7,237.1 477.4,237.1 478.1,237.0 478.8,237.0 479.5,236.9 480.2,236.9 480.9,236.8 481.6,236.7 482.3,236.7 483.0,236.6 483.7,236.6 484.4,236.5 485.1,236.5 485.8,236.4 486.5,236.3 487.2,236.3 487.9,236.2 488.6,236.2 489.3,236.1 490.0,236.0 490.7,236.0 491.4,235.9 492.1,235.9 492.8,235.8 493.5,235.7 494.2,235.7 494.9,235.6 495.6,235.5 496.3,235.5 497.0,235.4 497.7,235.3 498.4,235.3 499.1,235.2 499.8,235.2 500.5,235.1 501.2,235.0 501.9,235.0 502.6,234.9 503.3,234.8 504.0,234.8 504.7,234.7 505.4,234.6 506.1,234.5 506.8,234.5 507.5,234.4 508.2,234.3 508.9,234.3 509.6,234.2 510.3,234.1 511.0,234.1 511.7,234.0 512.4,233.9 513.1,233.8 513.8,233.8 514.5,233.7 515.2,233.6 515.9,233.5 516.6,233.5 517.3,233.4 518.0,233.3 518.7,233.2 519.4,233.2 520.1,233.1 520.8,233.0 521.5,232.9 522.2,232.8 522.9,232.8 523.6,232.7 524.3,232.6 525.0,232.5 525.7,232.4 526.4,232.4 527.1,232.3 527.8,232.2 528.5,232.1 529.2,232.0 529.9,231.9 530.6,231.9 531.3,231.8 532.0,231.7 532.7,231.6 533.4,231.5 534.1,231.4 534.8,231.3 535.5,231.3 536.1,231.2 536.8,231.1 537.5,231.0 538.2,230.9 538.9,230.8 539.6,230.7 540.3,230.6 541.0,230.5 541.7,230.4 542.4,230.3 543.1,230.2 543.8,230.2 544.5,230.1 545.2,230.0 545.9,229.9 546.6,229.8 547.3,229.7 548.0,229.6 548.7,229.5 549.4,229.4 550.0,229.3 550.7,229.2 551.4,229.1 552.1,229.0 552.8,228.9 553.5,228.8 554.2,228.7 554.9,228.5 555.6,228.4 556.3,228.3 557.0,228.2 557.7,228.1 558.4,228.0 559.1,227.9 559.8,227.8 560.5,227.7 561.2,227.6 561.9,227.5 562.6,227.3 563.3,227.2 563.9,227.1 564.6,227.0 565.3,226.9 566.0,226.8 566.7,226.6 567.4,226.5 568.1,226.4 568.8,226.3 569.5,226.2 570.2,226.0 570.9,225.9 571.6,225.8 572.2,225.7 572.9,225.6 573.6,225.4 574.3,225.3 575.0,225.2 575.7,225.0 576.4,224.9 577.1,224.8 577.8,224.6 578.5,224.5 579.1,224.4 579.8,224.2 580.5,224.1 581.2,224.0 581.9,223.8 582.6,223.7 583.3,223.6 584.0,223.4 584.7,223.3 585.4,223.1 586.0,223.0 586.7,222.8 587.4,222.7 588.1,222.5 588.8,222.4 589.5,222.2 590.2,222.1 590.8,221.9 591.5,221.8 592.2,221.6 592.9,221.5 593.6,221.3 594.3,221.2 595.0,221.0 595.6,220.8 596.3,220.7 597.0,220.5 597.7,220.3 598.4,220.2 599.1,220.0 599.7,219.8 600.4,219.7 601.1,219.5 601.8,219.3 602.5,219.1 603.1,219.0 603.8,218.8 604.5,218.6 605.2,218.4 605.9,218.2 606.5,218.1 607.2,217.9 607.9,217.7 608.6,217.5 609.2,217.3 609.9,217.1 610.6,216.9 611.3,216.7 611.9,216.5 612.6,216.3 613.3,216.1 613.9,215.9 614.6,215.7 615.3,215.5 616.0,215.3 616.6,215.0 617.3,214.8 618.0,214.6 618.6,214.4 619.3,214.2 620.0,213.9 620.6,213.7 621.3,213.5 621.9,213.2 622.6,213.0 623.3,212.8 623.9,212.5 624.6,212.3 625.2,212.0 625.9,211.8 626.6,211.5 627.2,211.3 627.9,211.0 628.5,210.7 629.2,210.5 629.8,210.2 630.5,209.9 631.1,209.6 631.7,209.4 632.4,209.1 633.0,208.8 633.7,208.5 634.3,208.2 634.9,207.9 635.6,207.6 636.2,207.3 636.8,207.0 637.5,206.7 638.1,206.3 638.7,206.0 639.3,205.7 640.0,205.4 640.6,205.0 641.2,204.7 641.8,204.3 642.4,204.0 643.0,203.6 643.6,203.3 644.2,202.9 644.8,202.5 645.4,202.1 646.0,201.8 646.6,201.4 647.2,201.0 647.7,200.6 648.3,200.2 648.9,199.8 649.5,199.3 650.0,198.9 650.6,198.5 651.1,198.1 651.7,197.6 652.2,197.2 652.8,196.7 653.3,196.2 653.8,195.8 654.3,195.3 654.8,194.8 655.4,194.4 655.9,193.9 656.4,193.4 656.8,192.9 657.3,192.4 657.8,191.8 658.3,191.3 658.8,190.8 659.2,190.3 659.7,189.7 660.1,189.2 660.6,188.6 661.0,188.1 661.4,187.5 661.8,187.0 662.2,186.4 662.7,185.8 663.1,185.2 663.4,184.6 663.8,184.1 664.2,183.5 664.6,182.9 664.9,182.3 665.3,181.6 665.7,181.0 666.0,180.4 666.3,179.8 666.7,179.2 667.0,178.5 667.3,177.9 667.6,177.3 667.9,176.6 668.2,176.0 668.5,175.4 668.8,174.7 669.1,174.1 669.4,173.4 669.6,172.8 669.9,172.1 670.2,171.4 670.4,170.8 670.7,170.1 670.9,169.5 671.2,168.8 671.4,168.1 671.6,167.4 671.8,166.8 672.1,166.1 672.3,165.4 672.5,164.8 672.7,164.1 672.9,163.4 673.1,162.7 673.3,162.0 673.5,161.4 673.7,160.7 673.9,160.0 674.0,159.3 674.2,158.6 674.4,157.9 674.6,157.2 674.7,156.6 674.9,155.9 675.1,155.2 675.2,154.5 675.4,153.8 675.5,153.1 675.7,152.4 675.8,151.7 676.0,151.0 676.1,150.3 676.2,149.6 676.4,148.9 676.5,148.2 676.6,147.5 676.8,146.8 676.9,146.1 677.0,145.4 677.2,144.7 677.3,144.0 677.4,143.3 677.5,142.6 677.6,141.9 677.7,141.2 677.8,140.5 678.0,139.8 678.1,139.0 678.2,138.3 678.3,137.6 678.4,136.9 678.5,136.2 678.6,135.5 678.7,134.8 678.8,134.1 678.9,133.4 679.0,132.7 679.1,131.9 679.2,131.2 679.2,130.5 679.3,129.8 679.4,129.1 679.5,128.4 679.6,127.7 679.7,126.9 679.8,126.2 679.8,125.5 679.9,124.8 680.0,124.1 680.1,123.3 680.2,122.6 680.2,121.9 680.3,121.2 680.4,120.5 680.5,119.7 680.5,119.0 680.6,118.3 680.7,117.6 680.7,116.8 680.8,116.1 680.9,115.4 680.9,114.7 681.0,114.0 681.1,113.3 681.1,112.5 681.2,111.8 681.3,111.0 681.3,110.3 681.4,109.6 681.4,108.9 681.5,108.1 681.6,107.4 681.6,106.7 681.7,105.9 681.7,105.2 681.8,104.5 681.8,103.7 681.9,103.0 682.0,102.3 682.0,101.5 682.1,100.8 682.1,100.1 682.2,99.4 682.2,98.6 682.3,97.9 682.3,97.2 682.4,96.4 682.4,95.7 682.5,94.9 682.5,94.2 682.6,93.4 682.6,92.7 682.7,92.0 682.7,91.3 682.7,90.5 682.8,89.8 682.8,89.0 682.9,88.3 682.9,87.5 683.0,86.7 683.0,86.0 683.1,85.3 683.1,84.6 683.1,83.8 683.2,83.1 683.2,82.4 683.2,82.0" fill="none" stroke="#619CFF" stroke-width="1.9" stroke-linejoin="round"/>
<path d="M427.0,242.1 427.7,242.1 428.4,242.0 429.1,242.0 429.8,242.0 430.5,241.9 431.2,241.9 431.9,241.9 432.6,241.8 433.3,241.8 434.0,241.8 434.7,241.7 435.4,241.7 436.1,241.6 436.8,241.6 437.5,241.6 438.2,241.5 438.9,241.5 439.6,241.5 440.3,241.4 441.0,241.4 441.7,241.3 442.4,241.3 443.1,241.3 443.8,241.2 444.5,241.2 445.2,241.1 445.9,241.1 446.6,241.1 447.3,241.0 448.0,241.0 448.7,240.9 449.4,240.9 450.1,240.9 450.8,240.8 451.5,240.8 452.2,240.7 452.9,240.7 453.6,240.7 454.3,240.6 455.0,240.6 455.7,240.5 456.4,240.5 457.1,240.5 457.8,240.4 458.5,240.4 459.2,240.3 459.9,240.3 460.6,240.2 461.3,240.2 462.0,240.2 462.7,240.1 463.4,240.1 464.1,240.0 464.8,240.0 465.5,239.9 466.2,239.9 466.9,239.8 467.6,239.8 468.3,239.7 469.0,239.7 469.7,239.7 470.4,239.6 471.1,239.6 471.8,239.5 472.5,239.5 473.2,239.4 473.9,239.4 474.6,239.3 475.3,239.3 476.0,239.2 476.7,239.2 477.4,239.1 478.1,239.1 478.8,239.0 479.5,239.0 480.2,238.9 480.9,238.9 481.6,238.8 482.3,238.8 483.0,238.7 483.7,238.7 484.4,238.6 485.1,238.6 485.8,238.5 486.5,238.5 487.2,238.4 487.9,238.4 488.6,238.3 489.3,238.3 490.0,238.2 490.7,238.1 491.4,238.1 492.1,238.0 492.8,238.0 493.5,237.9 494.2,237.9 494.9,237.8 495.6,237.8 496.3,237.7 497.0,237.6 497.7,237.6 498.4,237.5 499.1,237.5 499.8,237.4 500.5,237.4 501.2,237.3 501.9,237.2 502.6,237.2 503.3,237.1 504.0,237.1 504.7,237.0 505.4,236.9 506.1,236.9 506.8,236.8 507.5,236.8 508.2,236.7 508.9,236.6 509.6,236.6 510.3,236.5 511.0,236.4 511.7,236.4 512.4,236.3 513.1,236.2 513.8,236.2 514.5,236.1 515.2,236.1 515.9,236.0 516.6,235.9 517.3,235.9 518.0,235.8 518.7,235.7 519.4,235.6 520.1,235.6 520.8,235.5 521.5,235.4 522.2,235.4 522.9,235.3 523.6,235.2 524.3,235.2 525.0,235.1 525.7,235.0 526.4,234.9 527.1,234.9 527.8,234.8 528.5,234.7 529.2,234.6 529.9,234.6 530.6,234.5 531.3,234.4 532.0,234.3 532.7,234.3 533.4,234.2 534.1,234.1 534.8,234.0 535.5,234.0 536.2,233.9 536.9,233.8 537.6,233.7 538.3,233.6 539.0,233.6 539.7,233.5 540.4,233.4 541.1,233.3 541.8,233.2 542.5,233.2 543.2,233.1 543.9,233.0 544.6,232.9 545.3,232.8 546.0,232.7 546.7,232.7 547.4,232.6 548.1,232.5 548.8,232.4 549.5,232.3 550.2,232.2 550.8,232.1 551.5,232.0 552.2,231.9 552.9,231.9 553.6,231.8 554.3,231.7 555.0,231.6 555.7,231.5 556.4,231.4 557.1,231.3 557.8,231.2 558.5,231.1 559.2,231.0 559.9,230.9 560.6,230.8 561.3,230.7 562.0,230.6 562.7,230.5 563.4,230.4 564.1,230.3 564.7,230.2 565.4,230.1 566.1,230.0 566.8,229.9 567.5,229.8 568.2,229.7 568.9,229.6 569.6,229.5 570.3,229.4 571.0,229.3 571.7,229.2 572.4,229.1 573.1,229.0 573.8,228.9 574.5,228.8 575.2,228.7 575.9,228.6 576.6,228.4 577.3,228.3 578.0,228.2 578.6,228.1 579.3,228.0 580.0,227.9 580.7,227.8 581.4,227.7 582.1,227.5 582.8,227.4 583.5,227.3 584.2,227.2 584.9,227.1 585.6,226.9 586.3,226.8 587.0,226.7 587.7,226.6 588.3,226.5 589.0,226.3 589.7,226.2 590.4,226.1 591.1,226.0 591.8,225.8 592.5,225.7 593.2,225.6 593.9,225.5 594.6,225.3 595.2,225.2 595.9,225.1 596.6,224.9 597.3,224.8 598.0,224.7 598.7,224.5 599.4,224.4 600.1,224.3 600.8,224.1 601.5,224.0 602.1,223.8 602.8,223.7 603.5,223.6 604.2,223.4 604.9,223.3 605.6,223.1 606.3,223.0 607.0,222.8 607.7,222.7 608.3,222.5 609.0,222.4 609.7,222.2 610.4,222.1 611.1,221.9 611.8,221.8 612.4,221.6 613.1,221.5 613.8,221.3 614.5,221.2 615.2,221.0 615.9,220.8 616.6,220.7 617.2,220.5 617.9,220.3 618.6,220.2 619.3,220.0 620.0,219.8 620.6,219.7 621.3,219.5 622.0,219.3 622.7,219.1 623.4,219.0 624.0,218.8 624.7,218.6 625.4,218.4 626.1,218.2 626.8,218.0 627.4,217.9 628.1,217.7 628.8,217.5 629.5,217.3 630.1,217.1 630.8,216.9 631.5,216.7 632.2,216.5 632.8,216.2 633.5,216.0 634.2,215.8 634.8,215.6 635.5,215.4 636.2,215.1 636.8,214.9 637.5,214.7 638.1,214.4 638.8,214.2 639.5,214.0 640.1,213.7 640.8,213.4 641.4,213.2 642.1,212.9 642.7,212.6 643.4,212.4 644.0,212.1 644.7,211.8 645.3,211.5 645.9,211.2 646.6,210.9 647.2,210.6 647.8,210.3 648.5,210.0 649.1,209.6 649.7,209.3 650.3,208.9 650.9,208.6 651.5,208.2 652.1,207.9 652.7,207.5 653.3,207.1 653.9,206.7 654.4,206.3 655.0,205.9 655.6,205.4 656.1,205.0 656.7,204.6 657.2,204.1 657.7,203.7 658.3,203.2 658.8,202.7 659.3,202.2 659.8,201.7 660.3,201.2 660.7,200.7 661.2,200.2 661.7,199.7 662.1,199.1 662.6,198.6 663.0,198.0 663.4,197.5 663.9,196.9 664.3,196.3 664.7,195.7 665.1,195.1 665.4,194.6 665.8,194.0 666.2,193.4 666.5,192.8 666.9,192.1 667.2,191.5 667.6,190.9 667.9,190.3 668.2,189.6 668.5,189.0 668.8,188.4 669.1,187.7 669.4,187.1 669.7,186.4 670.0,185.8 670.2,185.1 670.5,184.5 670.7,183.8 671.0,183.1 671.2,182.5 671.5,181.8 671.7,181.1 671.9,180.5 672.2,179.8 672.4,179.1 672.6,178.4 672.8,177.7 673.0,177.1 673.2,176.4 673.4,175.7 673.6,175.0 673.8,174.3 674.0,173.7 674.2,173.0 674.3,172.3 674.5,171.6 674.7,170.9 674.8,170.2 675.0,169.5 675.2,168.8 675.3,168.1 675.5,167.5 675.6,166.8 675.8,166.1 675.9,165.4 676.1,164.7 676.2,164.0 676.3,163.3 676.5,162.6 676.6,161.9 676.7,161.2 676.9,160.5 677.0,159.8 677.1,159.1 677.2,158.3 677.4,157.6 677.5,156.9 677.6,156.2 677.7,155.5 677.8,154.8 677.9,154.1 678.1,153.4 678.2,152.7 678.3,152.0 678.4,151.3 678.5,150.5 678.6,149.8 678.7,149.1 678.8,148.4 678.9,147.7 679.0,147.0 679.1,146.3 679.2,145.6 679.2,144.9 679.3,144.1 679.4,143.4 679.5,142.7 679.6,142.0 679.7,141.3 679.8,140.6 679.9,139.8 679.9,139.1 680.0,138.4 680.1,137.7 680.2,137.0 680.3,136.2 680.3,135.5 680.4,134.8 680.5,134.1 680.6,133.4 680.6,132.6 680.7,131.9 680.8,131.2 680.8,130.5 680.9,129.8 681.0,129.0 681.1,128.3 681.1,127.6 681.2,126.9 681.2,126.2 681.3,125.4 681.4,124.7 681.4,124.0 681.5,123.2 681.6,122.5 681.6,121.8 681.7,121.1 681.7,120.3 681.8,119.6 681.9,118.9 681.9,118.1 682.0,117.4 682.0,116.7 682.1,116.0 682.1,115.3 682.2,114.5 682.3,113.8 682.3,113.0 682.4,112.3 682.4,111.5 682.5,110.8 682.5,110.1 682.6,109.4 682.6,108.6 682.7,107.9 682.7,107.2 682.8,106.4 682.8,105.7 682.9,104.9 682.9,104.1 683.0,103.4 683.0,102.7 683.1,102.0 683.1,101.3 683.1,100.5 683.2,99.8 683.2,99.0 683.3,98.3 683.3,97.5 683.4,96.7 683.4,96.0 683.5,95.3 683.5,94.6 683.5,93.8 683.6,93.1 683.6,92.4 683.7,91.7 683.7,90.9 683.7,90.2 683.8,89.4 683.8,88.7 683.9,87.9 683.9,87.1 683.9,86.3 684.0,85.5 684.0,84.8 684.0,84.1 684.1,83.4 684.1,82.7 684.1,82.1" fill="none" stroke="#FF00FF" stroke-width="1.9" stroke-linejoin="round"/>
<path d="M681.92,90.03 L681.90,66.00" fill="none" stroke="#F8766D" stroke-width="1.9"/>
<path d="M681.90,66.00 L682.60,57.00" fill="none" stroke="#F8766D" stroke-width="2" stroke-dasharray="1.8,1.8"/>
<path d="M682.56,87.02 L682.40,69.00" fill="none" stroke="#B79F00" stroke-width="1.9"/>
<path d="M682.40,69.00 L683.00,60.00" fill="none" stroke="#B79F00" stroke-width="2" stroke-dasharray="1.8,1.8"/>
<path d="M683.19,82.01 L683.50,62.50" fill="none" stroke="#00BA38" stroke-width="2" stroke-dasharray="1.8,1.8"/>
<path d="M683.35,82.05 L684.00,73.00" fill="none" stroke="#00BFC4" stroke-width="2" stroke-dasharray="1.8,1.8"/>
<path d="M683.23,82.03 L683.30,54.00" fill="none" stroke="#619CFF" stroke-width="2" stroke-dasharray="1.8,1.8"/>
<path d="M684.15,82.09 L683.80,81.00" fill="none" stroke="#FF00FF" stroke-width="1.9"/>
<path d="M683.80,81.00 L683.60,75.50" fill="none" stroke="#FF00FF" stroke-width="2" stroke-dasharray="1.8,1.8"/>
<text x="0.30" y="306.60" font-size="13" fill="#000">(C)</text>
<circle cx="62.80" cy="303.10" r="3.9" fill="#F9636A"/>
<text x="76.00" y="307.00" font-size="11.5" font-weight="bold" stroke="#000" stroke-width="0.25" fill="#000">yr1</text>
<circle cx="110.00" cy="303.10" r="3.9" fill="#A9A100"/>
<text x="122.80" y="307.00" font-size="11.5" font-weight="bold" stroke="#000" stroke-width="0.25" fill="#000">yr5</text>
<circle cx="156.00" cy="303.10" r="3.9" fill="#5CC863"/>
<text x="169.20" y="307.00" font-size="11.5" font-weight="bold" stroke="#000" stroke-width="0.25" fill="#000">yr10</text>
<circle cx="206.10" cy="303.10" r="3.9" fill="#2AA4A4"/>
<text x="218.80" y="307.00" font-size="11.5" font-weight="bold" stroke="#000" stroke-width="0.25" fill="#000">yr15</text>
<circle cx="255.40" cy="303.10" r="3.9" fill="#62A9F9"/>
<text x="269.20" y="307.00" font-size="11.5" font-weight="bold" stroke="#000" stroke-width="0.25" fill="#000">yr25</text>
<circle cx="306.00" cy="303.10" r="3.9" fill="#F962F0"/>
<text x="318.80" y="307.00" font-size="11.5" font-weight="bold" stroke="#000" stroke-width="0.25" fill="#000">yr30</text>
<rect x="53.50" y="327.00" width="287.00" height="241.30" fill="none" stroke="#7f7f7f" stroke-width="1"/>
<line x1="94.65" y1="568.30" x2="94.65" y2="564.80" stroke="#7f7f7f" stroke-width="1"/>
<line x1="94.65" y1="327.00" x2="94.65" y2="330.50" stroke="#7f7f7f" stroke-width="1"/>
<line x1="135.60" y1="568.30" x2="135.60" y2="564.80" stroke="#7f7f7f" stroke-width="1"/>
<line x1="135.60" y1="327.00" x2="135.60" y2="330.50" stroke="#7f7f7f" stroke-width="1"/>
<line x1="176.55" y1="568.30" x2="176.55" y2="564.80" stroke="#7f7f7f" stroke-width="1"/>
<line x1="176.55" y1="327.00" x2="176.55" y2="330.50" stroke="#7f7f7f" stroke-width="1"/>
<line x1="217.50" y1="568.30" x2="217.50" y2="564.80" stroke="#7f7f7f" stroke-width="1"/>
<line x1="217.50" y1="327.00" x2="217.50" y2="330.50" stroke="#7f7f7f" stroke-width="1"/>
<line x1="258.45" y1="568.30" x2="258.45" y2="564.80" stroke="#7f7f7f" stroke-width="1"/>
<line x1="258.45" y1="327.00" x2="258.45" y2="330.50" stroke="#7f7f7f" stroke-width="1"/>
<line x1="299.40" y1="568.30" x2="299.40" y2="564.80" stroke="#7f7f7f" stroke-width="1"/>
<line x1="299.40" y1="327.00" x2="299.40" y2="330.50" stroke="#7f7f7f" stroke-width="1"/>
<line x1="53.50" y1="546.30" x2="57.00" y2="546.30" stroke="#7f7f7f" stroke-width="1"/>
<line x1="340.50" y1="546.30" x2="337.00" y2="546.30" stroke="#7f7f7f" stroke-width="1"/>
<line x1="53.50" y1="502.30" x2="57.00" y2="502.30" stroke="#7f7f7f" stroke-width="1"/>
<line x1="340.50" y1="502.30" x2="337.00" y2="502.30" stroke="#7f7f7f" stroke-width="1"/>
<line x1="53.50" y1="458.30" x2="57.00" y2="458.30" stroke="#7f7f7f" stroke-width="1"/>
<line x1="340.50" y1="458.30" x2="337.00" y2="458.30" stroke="#7f7f7f" stroke-width="1"/>
<line x1="53.50" y1="414.30" x2="57.00" y2="414.30" stroke="#7f7f7f" stroke-width="1"/>
<line x1="340.50" y1="414.30" x2="337.00" y2="414.30" stroke="#7f7f7f" stroke-width="1"/>
<line x1="53.50" y1="370.30" x2="57.00" y2="370.30" stroke="#7f7f7f" stroke-width="1"/>
<line x1="340.50" y1="370.30" x2="337.00" y2="370.30" stroke="#7f7f7f" stroke-width="1"/>
<text x="49.00" y="330.60" font-size="11.4" font-weight="bold" stroke="#000" stroke-width="0.1" text-anchor="end" fill="#000">0.3</text>
<text x="49.00" y="374.30" font-size="11.4" font-weight="bold" stroke="#000" stroke-width="0.1" text-anchor="end" fill="#000">0.2</text>
<text x="49.00" y="418.30" font-size="11.4" font-weight="bold" stroke="#000" stroke-width="0.1" text-anchor="end" fill="#000">0.1</text>
<text x="49.00" y="462.30" font-size="11.4" font-weight="bold" stroke="#000" stroke-width="0.1" text-anchor="end" fill="#000">0.0</text>
<text x="49.00" y="506.30" font-size="11.4" font-weight="bold" stroke="#000" stroke-width="0.1" text-anchor="end" fill="#000">-0.1</text>
<text x="49.00" y="550.30" font-size="11.4" font-weight="bold" stroke="#000" stroke-width="0.1" text-anchor="end" fill="#000">-0.2</text>
<text x="53.70" y="581.30" font-size="11.4" font-weight="bold" stroke="#000" stroke-width="0.1" text-anchor="middle" fill="#000">-0.4</text>
<text x="94.65" y="581.30" font-size="11.4" font-weight="bold" stroke="#000" stroke-width="0.1" text-anchor="middle" fill="#000">-0.3</text>
<text x="135.60" y="581.30" font-size="11.4" font-weight="bold" stroke="#000" stroke-width="0.1" text-anchor="middle" fill="#000">-0.2</text>
<text x="176.55" y="581.30" font-size="11.4" font-weight="bold" stroke="#000" stroke-width="0.1" text-anchor="middle" fill="#000">-0.1</text>
<text x="217.50" y="581.30" font-size="11.4" font-weight="bold" stroke="#000" stroke-width="0.1" text-anchor="middle" fill="#000">0.0</text>
<text x="258.45" y="581.30" font-size="11.4" font-weight="bold" stroke="#000" stroke-width="0.1" text-anchor="middle" fill="#000">0.1</text>
<text x="299.40" y="581.30" font-size="11.4" font-weight="bold" stroke="#000" stroke-width="0.1" text-anchor="middle" fill="#000">0.2</text>
<text x="340.35" y="581.30" font-size="11.4" font-weight="bold" stroke="#000" stroke-width="0.1" text-anchor="middle" fill="#000">0.3</text>
<text x="196.40" y="600.60" font-size="12.2" font-weight="bold" stroke="#000" stroke-width="0.25" text-anchor="middle" fill="#000">NMDS 1</text>
<text transform="translate(22.2,456.4) rotate(-90)" font-size="12.2" font-weight="bold" stroke="#000" stroke-width="0.25" text-anchor="middle">NMDS 2</text>
<text x="75.50" y="350.90" font-size="11" fill="#111">Stress: 0.125</text>
<text x="75.50" y="364.20" font-size="11" fill="#111" textLength="75.3" lengthAdjust="spacingAndGlyphs">Anosim: <tspan font-style="italic">P</tspan>&lt;0.01</text>
<circle cx="308.30" cy="392.20" r="3.9" fill="#F9636A"/>
<circle cx="275.20" cy="403.30" r="3.9" fill="#F9636A"/>
<circle cx="262.80" cy="405.40" r="3.9" fill="#F9636A"/>
<circle cx="300.90" cy="406.20" r="3.9" fill="#F9636A"/>
<circle cx="295.10" cy="414.10" r="3.9" fill="#F9636A"/>
<circle cx="236.90" cy="419.90" r="3.9" fill="#F9636A"/>
<circle cx="273.10" cy="423.10" r="3.9" fill="#F9636A"/>
<circle cx="246.20" cy="430.50" r="3.9" fill="#F9636A"/>
<circle cx="182.70" cy="449.50" r="3.9" fill="#F9636A"/>
<circle cx="297.80" cy="466.20" r="3.9" fill="#A9A100"/>
<circle cx="303.70" cy="472.40" r="3.9" fill="#A9A100"/>
<circle cx="288.40" cy="487.70" r="3.9" fill="#A9A100"/>
<circle cx="309.70" cy="487.70" r="3.9" fill="#A9A100"/>
<circle cx="308.70" cy="496.10" r="3.9" fill="#A9A100"/>
<circle cx="281.80" cy="501.30" r="3.9" fill="#A9A100"/>
<circle cx="267.90" cy="516.00" r="3.9" fill="#A9A100"/>
<circle cx="324.70" cy="523.20" r="3.9" fill="#A9A100"/>
<circle cx="277.80" cy="538.10" r="3.9" fill="#A9A100"/>
<circle cx="274.90" cy="450.90" r="3.9" fill="#5CC863"/>
<circle cx="296.80" cy="449.50" r="3.9" fill="#5CC863"/>
<circle cx="318.70" cy="451.50" r="3.9" fill="#5CC863"/>
<circle cx="299.40" cy="456.90" r="3.9" fill="#5CC863"/>
<circle cx="285.40" cy="462.50" r="3.9" fill="#5CC863"/>
<circle cx="269.50" cy="466.40" r="3.9" fill="#5CC863"/>
<circle cx="280.40" cy="467.40" r="3.9" fill="#5CC863"/>
<circle cx="287.80" cy="476.20" r="3.9" fill="#5CC863"/>
<circle cx="277.50" cy="482.20" r="3.9" fill="#5CC863"/>
<circle cx="216.30" cy="475.60" r="3.9" fill="#2AA4A4"/>
<circle cx="183.40" cy="492.60" r="3.9" fill="#2AA4A4"/>
<circle cx="162.90" cy="500.80" r="3.9" fill="#2AA4A4"/>
<circle cx="184.00" cy="508.50" r="3.9" fill="#2AA4A4"/>
<circle cx="164.80" cy="517.60" r="3.9" fill="#2AA4A4"/>
<circle cx="172.60" cy="522.20" r="3.9" fill="#2AA4A4"/>
<circle cx="184.30" cy="522.70" r="3.9" fill="#2AA4A4"/>
<circle cx="191.80" cy="531.90" r="3.9" fill="#2AA4A4"/>
<circle cx="185.80" cy="547.80" r="3.9" fill="#2AA4A4"/>
<circle cx="214.60" cy="356.40" r="3.9" fill="#62A9F9"/>
<circle cx="210.80" cy="364.50" r="3.9" fill="#62A9F9"/>
<circle cx="187.70" cy="387.80" r="3.9" fill="#62A9F9"/>
<circle cx="195.40" cy="401.50" r="3.9" fill="#62A9F9"/>
<circle cx="184.20" cy="404.80" r="3.9" fill="#62A9F9"/>
<circle cx="172.20" cy="405.30" r="3.9" fill="#62A9F9"/>
<circle cx="188.50" cy="412.50" r="3.9" fill="#62A9F9"/>
<circle cx="177.40" cy="415.10" r="3.9" fill="#62A9F9"/>
<circle cx="162.80" cy="416.80" r="3.9" fill="#62A9F9"/>
<circle cx="86.00" cy="434.60" r="3.9" fill="#F962F0"/>
<circle cx="98.90" cy="451.90" r="3.9" fill="#F962F0"/>
<circle cx="114.30" cy="447.40" r="3.9" fill="#F962F0"/>
<circle cx="130.70" cy="452.60" r="3.9" fill="#F962F0"/>
<circle cx="117.10" cy="463.60" r="3.9" fill="#F962F0"/>
<circle cx="125.00" cy="465.30" r="3.9" fill="#F962F0"/>
<circle cx="140.70" cy="464.30" r="3.9" fill="#F962F0"/>
<circle cx="105.70" cy="470.70" r="3.9" fill="#F962F0"/>
<circle cx="86.70" cy="475.70" r="3.9" fill="#F962F0"/>
<ellipse cx="249.85" cy="421.25" rx="91.67" ry="16.99" transform="rotate(-20.36 249.85 421.25)" fill="none" stroke="#F9636A" stroke-width="1.25"/>
<ellipse cx="289.40" cy="502.55" rx="42.88" ry="20.25" transform="rotate(-59.49 289.40 502.55)" fill="none" stroke="#A9A100" stroke-width="1.25"/>
<ellipse cx="288.60" cy="462.45" rx="39.78" ry="20.62" transform="rotate(-33.39 288.60 462.45)" fill="none" stroke="#5CC863" stroke-width="1.25"/>
<ellipse cx="184.85" cy="510.70" rx="39.45" ry="23.60" transform="rotate(-53.59 184.85 510.70)" fill="none" stroke="#2AA4A4" stroke-width="1.25"/>
<ellipse cx="191.00" cy="386.85" rx="48.80" ry="25.96" transform="rotate(-32.99 191.00 386.85)" fill="none" stroke="#62A9F9" stroke-width="1.25"/>
<ellipse cx="103.55" cy="456.80" rx="41.87" ry="28.16" transform="rotate(2.61 103.55 456.80)" fill="none" stroke="#F962F0" stroke-width="1.25"/>
<text x="366.00" y="306.80" font-size="13" fill="#000">(D)</text>
<circle cx="419.60" cy="302.40" r="3.9" fill="#F9636A"/>
<text x="433.00" y="306.50" font-size="11.5" font-weight="bold" stroke="#000" stroke-width="0.25" fill="#000">yr1</text>
<circle cx="466.60" cy="302.40" r="3.9" fill="#A9A100"/>
<text x="479.50" y="306.50" font-size="11.5" font-weight="bold" stroke="#000" stroke-width="0.25" fill="#000">yr5</text>
<circle cx="513.30" cy="302.40" r="3.9" fill="#5CC863"/>
<text x="526.60" y="306.50" font-size="11.5" font-weight="bold" stroke="#000" stroke-width="0.25" fill="#000">yr10</text>
<circle cx="562.90" cy="302.40" r="3.9" fill="#2AA4A4"/>
<text x="576.70" y="306.50" font-size="11.5" font-weight="bold" stroke="#000" stroke-width="0.25" fill="#000">yr15</text>
<circle cx="613.90" cy="302.40" r="3.9" fill="#62A9F9"/>
<text x="626.00" y="306.50" font-size="11.5" font-weight="bold" stroke="#000" stroke-width="0.25" fill="#000">yr25</text>
<circle cx="662.90" cy="302.40" r="3.9" fill="#F962F0"/>
<text x="675.30" y="306.50" font-size="11.5" font-weight="bold" stroke="#000" stroke-width="0.25" fill="#000">yr30</text>
<rect x="413.50" y="326.70" width="285.80" height="241.30" fill="none" stroke="#7f7f7f" stroke-width="1"/>
<line x1="441.50" y1="568.00" x2="441.50" y2="564.50" stroke="#7f7f7f" stroke-width="1"/>
<line x1="441.50" y1="326.70" x2="441.50" y2="330.20" stroke="#7f7f7f" stroke-width="1"/>
<line x1="498.85" y1="568.00" x2="498.85" y2="564.50" stroke="#7f7f7f" stroke-width="1"/>
<line x1="498.85" y1="326.70" x2="498.85" y2="330.20" stroke="#7f7f7f" stroke-width="1"/>
<line x1="556.20" y1="568.00" x2="556.20" y2="564.50" stroke="#7f7f7f" stroke-width="1"/>
<line x1="556.20" y1="326.70" x2="556.20" y2="330.20" stroke="#7f7f7f" stroke-width="1"/>
<line x1="613.55" y1="568.00" x2="613.55" y2="564.50" stroke="#7f7f7f" stroke-width="1"/>
<line x1="613.55" y1="326.70" x2="613.55" y2="330.20" stroke="#7f7f7f" stroke-width="1"/>
<line x1="670.90" y1="568.00" x2="670.90" y2="564.50" stroke="#7f7f7f" stroke-width="1"/>
<line x1="670.90" y1="326.70" x2="670.90" y2="330.20" stroke="#7f7f7f" stroke-width="1"/>
<line x1="413.50" y1="567.60" x2="417.00" y2="567.60" stroke="#7f7f7f" stroke-width="1"/>
<line x1="699.30" y1="567.60" x2="695.80" y2="567.60" stroke="#7f7f7f" stroke-width="1"/>
<line x1="413.50" y1="519.40" x2="417.00" y2="519.40" stroke="#7f7f7f" stroke-width="1"/>
<line x1="699.30" y1="519.40" x2="695.80" y2="519.40" stroke="#7f7f7f" stroke-width="1"/>
<line x1="413.50" y1="471.20" x2="417.00" y2="471.20" stroke="#7f7f7f" stroke-width="1"/>
<line x1="699.30" y1="471.20" x2="695.80" y2="471.20" stroke="#7f7f7f" stroke-width="1"/>
<line x1="413.50" y1="423.00" x2="417.00" y2="423.00" stroke="#7f7f7f" stroke-width="1"/>
<line x1="699.30" y1="423.00" x2="695.80" y2="423.00" stroke="#7f7f7f" stroke-width="1"/>
<line x1="413.50" y1="374.80" x2="417.00" y2="374.80" stroke="#7f7f7f" stroke-width="1"/>
<line x1="699.30" y1="374.80" x2="695.80" y2="374.80" stroke="#7f7f7f" stroke-width="1"/>
<text x="408.60" y="330.70" font-size="11.4" font-weight="bold" stroke="#000" stroke-width="0.1" text-anchor="end" fill="#000">0.3</text>
<text x="408.60" y="379.10" font-size="11.4" font-weight="bold" stroke="#000" stroke-width="0.1" text-anchor="end" fill="#000">0.2</text>
<text x="408.60" y="427.30" font-size="11.4" font-weight="bold" stroke="#000" stroke-width="0.1" text-anchor="end" fill="#000">0.1</text>
<text x="408.60" y="475.20" font-size="11.4" font-weight="bold" stroke="#000" stroke-width="0.1" text-anchor="end" fill="#000">0.0</text>
<text x="408.60" y="523.40" font-size="11.4" font-weight="bold" stroke="#000" stroke-width="0.1" text-anchor="end" fill="#000">-0.1</text>
<text x="408.60" y="571.80" font-size="11.4" font-weight="bold" stroke="#000" stroke-width="0.1" text-anchor="end" fill="#000">-0.2</text>
<text x="441.50" y="581.30" font-size="11.4" font-weight="bold" stroke="#000" stroke-width="0.1" text-anchor="middle" fill="#000">-0.4</text>
<text x="498.85" y="581.30" font-size="11.4" font-weight="bold" stroke="#000" stroke-width="0.1" text-anchor="middle" fill="#000">-0.2</text>
<text x="556.20" y="581.30" font-size="11.4" font-weight="bold" stroke="#000" stroke-width="0.1" text-anchor="middle" fill="#000">0.0</text>
<text x="613.55" y="581.30" font-size="11.4" font-weight="bold" stroke="#000" stroke-width="0.1" text-anchor="middle" fill="#000">0.2</text>
<text x="670.90" y="581.30" font-size="11.4" font-weight="bold" stroke="#000" stroke-width="0.1" text-anchor="middle" fill="#000">0.4</text>
<text x="556.40" y="602.50" font-size="12.2" font-weight="bold" stroke="#000" stroke-width="0.25" text-anchor="middle" fill="#000">NMDS1</text>
<text transform="translate(381.2,456.1) rotate(-90)" font-size="12.2" font-weight="bold" stroke="#000" stroke-width="0.25" text-anchor="middle">NMDS 2</text>
<text x="431.30" y="343.30" font-size="10.8" fill="#111">Stress: 0.131</text>
<text x="431.30" y="356.30" font-size="10.8" fill="#111" textLength="75.2" lengthAdjust="spacingAndGlyphs">Anosim: <tspan font-style="italic">P</tspan>&lt;0.01</text>
<circle cx="625.30" cy="511.90" r="3.9" fill="#F9636A"/>
<circle cx="637.70" cy="527.90" r="3.9" fill="#F9636A"/>
<circle cx="622.20" cy="534.30" r="3.9" fill="#F9636A"/>
<circle cx="641.50" cy="538.90" r="3.9" fill="#F9636A"/>
<circle cx="659.20" cy="534.10" r="3.9" fill="#F9636A"/>
<circle cx="633.30" cy="548.90" r="3.9" fill="#F9636A"/>
<circle cx="667.80" cy="553.50" r="3.9" fill="#F9636A"/>
<circle cx="549.00" cy="521.90" r="3.9" fill="#F9636A"/>
<circle cx="554.20" cy="538.60" r="3.9" fill="#F9636A"/>
<circle cx="549.80" cy="408.30" r="3.9" fill="#A9A100"/>
<circle cx="665.10" cy="402.50" r="3.9" fill="#A9A100"/>
<circle cx="640.40" cy="413.60" r="3.9" fill="#A9A100"/>
<circle cx="580.60" cy="437.20" r="3.9" fill="#A9A100"/>
<circle cx="618.60" cy="436.40" r="3.9" fill="#A9A100"/>
<circle cx="640.40" cy="445.40" r="3.9" fill="#A9A100"/>
<circle cx="667.20" cy="444.90" r="3.9" fill="#A9A100"/>
<circle cx="622.20" cy="450.70" r="3.9" fill="#A9A100"/>
<circle cx="671.70" cy="468.30" r="3.9" fill="#A9A100"/>
<circle cx="561.40" cy="533.10" r="3.9" fill="#5CC863"/>
<circle cx="569.60" cy="540.10" r="3.9" fill="#5CC863"/>
<circle cx="565.90" cy="546.80" r="3.9" fill="#5CC863"/>
<circle cx="586.50" cy="547.30" r="3.9" fill="#5CC863"/>
<circle cx="548.70" cy="550.70" r="3.9" fill="#5CC863"/>
<circle cx="554.20" cy="550.70" r="3.9" fill="#5CC863"/>
<circle cx="577.50" cy="549.80" r="3.9" fill="#5CC863"/>
<circle cx="574.10" cy="553.70" r="3.9" fill="#5CC863"/>
<circle cx="564.40" cy="555.50" r="3.9" fill="#5CC863"/>
<circle cx="555.30" cy="351.70" r="3.9" fill="#2AA4A4"/>
<circle cx="585.60" cy="350.10" r="3.9" fill="#2AA4A4"/>
<circle cx="607.40" cy="359.00" r="3.9" fill="#2AA4A4"/>
<circle cx="599.40" cy="368.90" r="3.9" fill="#2AA4A4"/>
<circle cx="563.60" cy="372.70" r="3.9" fill="#2AA4A4"/>
<circle cx="531.70" cy="378.00" r="3.9" fill="#2AA4A4"/>
<circle cx="548.40" cy="386.70" r="3.9" fill="#2AA4A4"/>
<circle cx="510.00" cy="391.70" r="3.9" fill="#2AA4A4"/>
<circle cx="468.40" cy="397.90" r="3.9" fill="#2AA4A4"/>
<circle cx="594.40" cy="406.10" r="3.9" fill="#62A9F9"/>
<circle cx="583.10" cy="452.50" r="3.9" fill="#62A9F9"/>
<circle cx="553.50" cy="456.70" r="3.9" fill="#62A9F9"/>
<circle cx="533.20" cy="459.40" r="3.9" fill="#62A9F9"/>
<circle cx="561.50" cy="474.00" r="3.9" fill="#62A9F9"/>
<circle cx="578.00" cy="478.10" r="3.9" fill="#62A9F9"/>
<circle cx="543.80" cy="482.60" r="3.9" fill="#62A9F9"/>
<circle cx="563.40" cy="483.20" r="3.9" fill="#62A9F9"/>
<circle cx="533.20" cy="487.20" r="3.9" fill="#62A9F9"/>
<circle cx="433.40" cy="462.00" r="3.9" fill="#F962F0"/>
<circle cx="448.50" cy="485.80" r="3.9" fill="#F962F0"/>
<circle cx="470.10" cy="504.20" r="3.9" fill="#F962F0"/>
<circle cx="521.50" cy="507.40" r="3.9" fill="#F962F0"/>
<circle cx="549.00" cy="509.80" r="3.9" fill="#F962F0"/>
<circle cx="482.40" cy="531.80" r="3.9" fill="#F962F0"/>
<circle cx="513.30" cy="532.90" r="3.9" fill="#F962F0"/>
<circle cx="525.20" cy="530.30" r="3.9" fill="#F962F0"/>
<circle cx="530.60" cy="556.00" r="3.9" fill="#F962F0"/>
<ellipse cx="641.80" cy="534.40" rx="37.70" ry="19.69" transform="rotate(55.87 641.80 534.40)" fill="none" stroke="#F9636A" stroke-width="1.25"/>
<ellipse cx="629.05" cy="433.00" rx="78.89" ry="19.76" transform="rotate(33.55 629.05 433.00)" fill="none" stroke="#A9A100" stroke-width="1.25"/>
<ellipse cx="566.80" cy="547.30" rx="30.50" ry="16.90" transform="rotate(-0.90 566.80 547.30)" fill="none" stroke="#5CC863" stroke-width="1.25"/>
<ellipse cx="544.30" cy="376.80" rx="92.98" ry="28.48" transform="rotate(-6.71 544.30 376.80)" fill="none" stroke="#2AA4A4" stroke-width="1.25"/>
<ellipse cx="567.15" cy="450.00" rx="49.60" ry="25.63" transform="rotate(-49.97 567.15 450.00)" fill="none" stroke="#62A9F9" stroke-width="1.25"/>
<ellipse cx="493.10" cy="508.60" rx="76.88" ry="23.03" transform="rotate(36.35 493.10 508.60)" fill="none" stroke="#F962F0" stroke-width="1.25"/>
</svg></body></html>
